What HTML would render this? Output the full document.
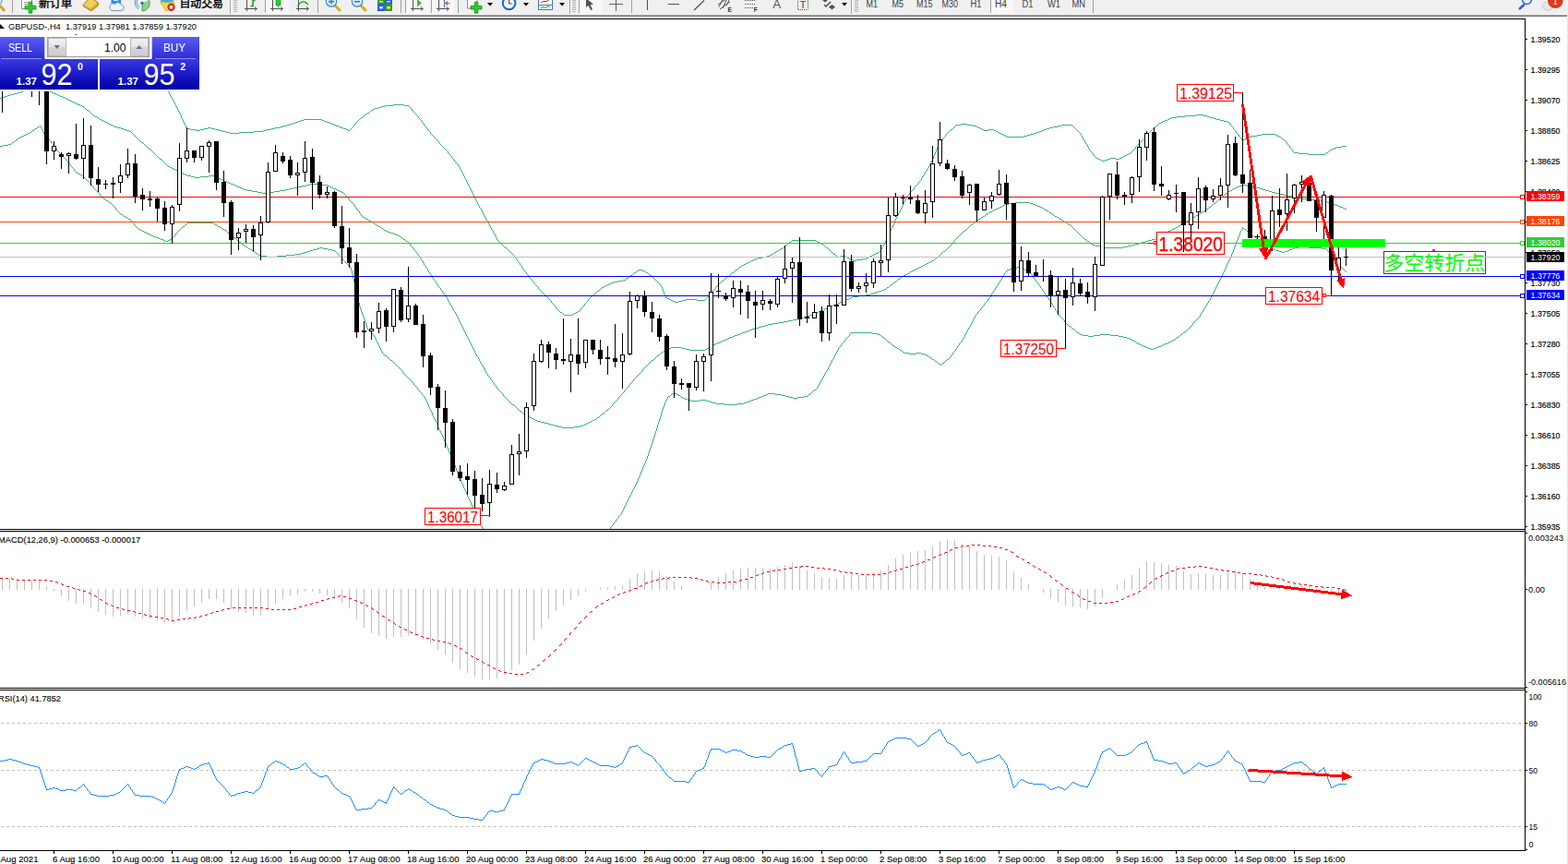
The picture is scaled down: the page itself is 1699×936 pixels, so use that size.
<!DOCTYPE html><html><head><meta charset="utf-8"><title>GBPUSD H4</title><style>html,body{margin:0;padding:0;background:#fff}body{width:1699px;height:936px;overflow:hidden;font-family:"Liberation Sans",sans-serif}svg{display:block}text{font-family:"Liberation Sans",sans-serif;white-space:pre}</style></head><body>
<svg width="1699" height="936" viewBox="0 0 1699 936">
<defs><linearGradient id="gb1" x1="0" y1="0" x2="0" y2="1"><stop offset="0" stop-color="#5a5af5"/><stop offset="1" stop-color="#2c2cd2"/></linearGradient><linearGradient id="gb2" x1="0" y1="0" x2="0" y2="1"><stop offset="0" stop-color="#3a3ae0"/><stop offset="0.5" stop-color="#1a1ac8"/><stop offset="1" stop-color="#0000a4"/></linearGradient><linearGradient id="gbtn" x1="0" y1="0" x2="0" y2="1"><stop offset="0" stop-color="#f2f2f2"/><stop offset="0.5" stop-color="#e4e4e4"/><stop offset="0.5" stop-color="#d4d4d4"/><stop offset="1" stop-color="#cfcfcf"/></linearGradient><clipPath id="cm"><rect x="0" y="21" width="1652" height="552"/></clipPath></defs>
<rect x="0" y="0" width="1699" height="936" fill="#fff"/>
<g clip-path="url(#cm)">
<path d="M23 99h2v1h-2zM54 99h2v1h-2zM19 100h4v1h-4zM56 100h2v1h-2zM15 101h4v1h-4zM58 101h3v1h-3zM11 102h4v1h-4zM61 102h2v1h-2zM8 103h3v1h-3zM63 103h2v1h-2zM5 104h3v1h-3zM65 104h3v1h-3zM2 105h3v1h-3zM68 105h2v1h-2zM0 106h2v1h-2zM70 106h2v1h-2zM72 107h2v1h-2zM74 108h2v1h-2zM76 109h2v1h-2zM78 110h2v1h-2zM80 111h2v1h-2zM82 112h2v1h-2zM84 113h3v1h-3zM426 113h12v1h-12zM87 114h2v1h-2zM417 114h9v1h-9zM438 114h5v1h-5zM89 115h2v1h-2zM413 115h4v1h-4zM410 116h3v1h-3zM406 117h4v1h-4zM404 118h2v1h-2zM94 119h2v1h-2zM402 119h2v1h-2zM398 122h2v1h-2zM395 124h2v1h-2zM1296 124h8v1h-8zM101 125h2v1h-2zM1284 125h12v1h-12zM1304 125h4v1h-4zM103 126h2v1h-2zM1275 126h9v1h-9zM1308 126h3v1h-3zM105 127h2v1h-2zM391 127h2v1h-2zM1269 127h6v1h-6zM1311 127h4v1h-4zM1267 128h2v1h-2zM1315 128h3v1h-3zM108 129h2v1h-2zM329 129h20v1h-20zM1265 129h2v1h-2zM1318 129h4v1h-4zM110 130h2v1h-2zM326 130h3v1h-3zM349 130h2v1h-2zM1262 130h3v1h-3zM1322 130h4v1h-4zM112 131h2v1h-2zM323 131h3v1h-3zM351 131h3v1h-3zM1260 131h2v1h-2zM1326 131h4v1h-4zM114 132h2v1h-2zM320 132h3v1h-3zM354 132h3v1h-3zM1258 132h2v1h-2zM1330 132h2v1h-2zM116 133h2v1h-2zM317 133h3v1h-3zM357 133h2v1h-2zM1256 133h2v1h-2zM118 134h2v1h-2zM314 134h3v1h-3zM359 134h3v1h-3zM1041 134h7v1h-7zM120 135h2v1h-2zM311 135h3v1h-3zM362 135h2v1h-2zM1036 135h5v1h-5zM1048 135h6v1h-6zM1150 135h12v1h-12zM122 136h2v1h-2zM307 136h4v1h-4zM364 136h3v1h-3zM1054 136h4v1h-4zM1146 136h4v1h-4zM41 137h2v1h-2zM124 137h3v1h-3zM303 137h4v1h-4zM367 137h2v1h-2zM1058 137h2v1h-2zM1141 137h5v1h-5zM127 138h4v1h-4zM225 138h4v1h-4zM298 138h5v1h-5zM369 138h3v1h-3zM1060 138h2v1h-2zM1137 138h4v1h-4zM1250 138h2v1h-2zM38 139h2v1h-2zM131 139h3v1h-3zM202 139h4v1h-4zM221 139h4v1h-4zM229 139h4v1h-4zM294 139h4v1h-4zM372 139h3v1h-3zM1062 139h2v1h-2zM1134 139h3v1h-3zM134 140h3v1h-3zM206 140h6v1h-6zM217 140h4v1h-4zM233 140h4v1h-4zM289 140h5v1h-5zM375 140h2v1h-2zM1030 140h2v1h-2zM1064 140h2v1h-2zM1071 140h6v1h-6zM1131 140h3v1h-3zM35 141h2v1h-2zM137 141h3v1h-3zM212 141h5v1h-5zM237 141h4v1h-4zM285 141h4v1h-4zM377 141h2v1h-2zM1066 141h5v1h-5zM1077 141h2v1h-2zM1129 141h2v1h-2zM140 142h2v1h-2zM241 142h4v1h-4zM275 142h10v1h-10zM1079 142h2v1h-2zM1126 142h3v1h-3zM32 143h2v1h-2zM245 143h4v1h-4zM259 143h16v1h-16zM1081 143h2v1h-2zM1123 143h3v1h-3zM30 144h2v1h-2zM249 144h10v1h-10zM1083 144h2v1h-2zM1120 144h3v1h-3zM28 145h2v1h-2zM1085 145h2v1h-2zM1116 145h4v1h-4zM1367 145h15v1h-15zM26 146h2v1h-2zM1087 146h2v1h-2zM1113 146h3v1h-3zM1362 146h5v1h-5zM1382 146h2v1h-2zM24 147h2v1h-2zM1089 147h2v1h-2zM1109 147h4v1h-4zM1356 147h6v1h-6zM1384 147h2v1h-2zM22 148h2v1h-2zM1091 148h18v1h-18zM1353 148h3v1h-3zM1386 148h2v1h-2zM20 149h2v1h-2zM1351 149h2v1h-2zM1349 150h2v1h-2zM17 151h2v1h-2zM1347 151h2v1h-2zM1390 151h2v1h-2zM13 154h2v1h-2zM153 154h2v1h-2zM9 156h3v1h-3zM3 157h6v1h-6zM0 158h3v1h-3zM1454 158h5v1h-5zM1448 159h6v1h-6zM1446 160h2v1h-2zM161 161h2v1h-2zM1443 161h3v1h-3zM1441 162h2v1h-2zM1402 165h5v1h-5zM1437 165h2v1h-2zM1223 166h2v1h-2zM1407 166h11v1h-11zM1221 167h2v1h-2zM1418 167h18v1h-18zM1219 168h2v1h-2zM1217 169h2v1h-2zM1215 170h2v1h-2zM1188 171h2v1h-2zM1203 171h6v1h-6zM1213 171h2v1h-2zM173 172h2v1h-2zM1190 172h2v1h-2zM1200 172h3v1h-3zM1209 172h4v1h-4zM1192 173h2v1h-2zM1197 173h3v1h-3zM1194 174h3v1h-3zM182 180h2v1h-2zM184 181h2v1h-2zM186 182h2v1h-2zM188 183h2v1h-2zM190 184h2v1h-2zM192 185h2v1h-2zM194 186h2v1h-2zM83 187h2v1h-2zM196 187h2v1h-2zM85 188h2v1h-2zM198 188h2v1h-2zM87 189h2v1h-2zM200 189h3v1h-3zM203 190h4v1h-4zM226 190h6v1h-6zM207 191h4v1h-4zM217 191h9v1h-9zM232 191h2v1h-2zM211 192h6v1h-6zM234 192h2v1h-2zM236 193h3v1h-3zM239 194h2v1h-2zM241 195h2v1h-2zM243 196h3v1h-3zM246 197h2v1h-2zM248 198h2v1h-2zM250 199h3v1h-3zM336 199h10v1h-10zM253 200h2v1h-2zM332 200h4v1h-4zM346 200h9v1h-9zM1346 200h5v1h-5zM255 201h2v1h-2zM327 201h5v1h-5zM355 201h2v1h-2zM1343 201h3v1h-3zM1351 201h6v1h-6zM257 202h3v1h-3zM322 202h5v1h-5zM357 202h2v1h-2zM1340 202h3v1h-3zM1357 202h4v1h-4zM260 203h2v1h-2zM318 203h4v1h-4zM359 203h2v1h-2zM1338 203h2v1h-2zM1361 203h4v1h-4zM262 204h2v1h-2zM313 204h5v1h-5zM361 204h3v1h-3zM1336 204h2v1h-2zM1365 204h3v1h-3zM264 205h4v1h-4zM309 205h4v1h-4zM364 205h2v1h-2zM1368 205h3v1h-3zM268 206h5v1h-5zM303 206h6v1h-6zM366 206h2v1h-2zM1333 206h2v1h-2zM1371 206h4v1h-4zM273 207h6v1h-6zM297 207h6v1h-6zM368 207h2v1h-2zM1331 207h2v1h-2zM1375 207h3v1h-3zM279 208h5v1h-5zM290 208h7v1h-7zM370 208h2v1h-2zM1378 208h4v1h-4zM284 209h6v1h-6zM1328 209h2v1h-2zM1382 209h4v1h-4zM1386 210h5v1h-5zM1391 211h4v1h-4zM1395 212h5v1h-5zM1323 213h2v1h-2zM1400 213h5v1h-5zM1405 214h5v1h-5zM112 215h2v1h-2zM1410 215h11v1h-11zM1421 216h10v1h-10zM115 217h2v1h-2zM1431 217h4v1h-4zM1435 218h3v1h-3zM118 219h2v1h-2zM1100 219h16v1h-16zM1438 219h4v1h-4zM1093 220h7v1h-7zM1116 220h3v1h-3zM1315 220h2v1h-2zM1442 220h3v1h-3zM1089 221h4v1h-4zM1119 221h3v1h-3zM1445 221h2v1h-2zM1087 222h2v1h-2zM1122 222h2v1h-2zM1447 222h3v1h-3zM1085 223h2v1h-2zM1124 223h3v1h-3zM1450 223h2v1h-2zM1083 224h2v1h-2zM1127 224h2v1h-2zM1310 224h2v1h-2zM1452 224h3v1h-3zM1081 225h2v1h-2zM1129 225h2v1h-2zM1455 225h2v1h-2zM1079 226h2v1h-2zM1307 226h2v1h-2zM1457 226h2v1h-2zM1077 227h2v1h-2zM1132 227h2v1h-2zM1075 228h2v1h-2zM1134 228h2v1h-2zM1304 228h2v1h-2zM1073 229h2v1h-2zM1071 230h2v1h-2zM1137 230h2v1h-2zM1301 230h2v1h-2zM131 232h2v1h-2zM1068 232h2v1h-2zM1140 232h2v1h-2zM1298 232h2v1h-2zM1296 233h2v1h-2zM134 234h2v1h-2zM1065 234h2v1h-2zM1143 234h2v1h-2zM136 235h2v1h-2zM393 235h2v1h-2zM1063 235h2v1h-2zM1145 235h2v1h-2zM1293 235h2v1h-2zM395 236h2v1h-2zM1291 236h2v1h-2zM139 237h2v1h-2zM397 237h2v1h-2zM1060 237h2v1h-2zM1148 237h2v1h-2zM1058 238h2v1h-2zM1150 238h2v1h-2zM1288 238h2v1h-2zM400 239h2v1h-2zM1286 239h2v1h-2zM402 240h2v1h-2zM1153 240h2v1h-2zM203 241h28v1h-28zM1283 241h2v1h-2zM231 242h2v1h-2zM405 242h2v1h-2zM1156 242h2v1h-2zM1281 242h2v1h-2zM233 243h2v1h-2zM1052 243h2v1h-2zM1158 243h2v1h-2zM1279 243h2v1h-2zM408 244h2v1h-2zM1277 244h2v1h-2zM198 245h2v1h-2zM236 245h2v1h-2zM410 245h2v1h-2zM238 246h2v1h-2zM1274 246h2v1h-2zM413 247h2v1h-2zM1272 247h2v1h-2zM1346 247h2v1h-2zM150 248h2v1h-2zM241 248h2v1h-2zM1270 248h2v1h-2zM1348 248h2v1h-2zM152 249h2v1h-2zM243 249h2v1h-2zM416 249h2v1h-2zM1268 249h2v1h-2zM154 250h2v1h-2zM418 250h2v1h-2zM1044 250h2v1h-2zM1266 250h2v1h-2zM156 251h2v1h-2zM420 251h3v1h-3zM158 252h2v1h-2zM247 252h2v1h-2zM423 252h3v1h-3zM1263 252h2v1h-2zM160 253h2v1h-2zM426 253h3v1h-3zM1261 253h2v1h-2zM1354 253h2v1h-2zM162 254h2v1h-2zM429 254h2v1h-2zM164 255h2v1h-2zM431 255h2v1h-2zM1258 255h2v1h-2zM166 256h3v1h-3zM1256 256h2v1h-2zM1358 256h2v1h-2zM169 257h3v1h-3zM253 257h2v1h-2zM434 257h2v1h-2zM1254 257h2v1h-2zM172 258h2v1h-2zM1252 258h2v1h-2zM174 259h3v1h-3zM184 259h2v1h-2zM437 259h2v1h-2zM1175 259h2v1h-2zM1248 259h4v1h-4zM177 260h2v1h-2zM182 260h2v1h-2zM858 260h26v1h-26zM1244 260h4v1h-4zM1363 260h2v1h-2zM179 261h3v1h-3zM440 261h2v1h-2zM884 261h2v1h-2zM1178 261h2v1h-2zM1241 261h3v1h-3zM259 262h2v1h-2zM855 262h2v1h-2zM886 262h2v1h-2zM1237 262h4v1h-4zM888 263h2v1h-2zM1234 263h3v1h-3zM1367 263h2v1h-2zM890 264h2v1h-2zM1182 264h2v1h-2zM1230 264h4v1h-4zM1369 264h2v1h-2zM263 265h2v1h-2zM1184 265h3v1h-3zM1226 265h4v1h-4zM1371 265h2v1h-2zM850 266h2v1h-2zM1187 266h5v1h-5zM1222 266h4v1h-4zM266 267h2v1h-2zM1192 267h4v1h-4zM1217 267h5v1h-5zM1374 267h2v1h-2zM1407 267h11v1h-11zM346 268h4v1h-4zM547 268h2v1h-2zM895 268h2v1h-2zM1196 268h21v1h-21zM1376 268h2v1h-2zM1403 268h4v1h-4zM1418 268h14v1h-14zM269 269h2v1h-2zM343 269h3v1h-3zM350 269h5v1h-5zM846 269h2v1h-2zM1378 269h2v1h-2zM1400 269h3v1h-3zM1432 269h5v1h-5zM271 270h2v1h-2zM339 270h4v1h-4zM355 270h5v1h-5zM844 270h2v1h-2zM1380 270h2v1h-2zM1397 270h3v1h-3zM336 271h3v1h-3zM360 271h3v1h-3zM1382 271h4v1h-4zM1395 271h2v1h-2zM274 272h2v1h-2zM333 272h3v1h-3zM841 272h2v1h-2zM1022 272h2v1h-2zM1386 272h3v1h-3zM1392 272h3v1h-3zM329 273h4v1h-4zM839 273h2v1h-2zM951 273h2v1h-2zM1389 273h3v1h-3zM277 274h2v1h-2zM326 274h3v1h-3zM949 274h2v1h-2zM320 275h6v1h-6zM836 275h2v1h-2zM903 275h2v1h-2zM947 275h2v1h-2zM280 276h2v1h-2zM310 276h10v1h-10zM834 276h2v1h-2zM945 276h2v1h-2zM282 277h7v1h-7zM300 277h10v1h-10zM831 277h3v1h-3zM911 277h5v1h-5zM943 277h2v1h-2zM289 278h11v1h-11zM826 278h5v1h-5zM907 278h4v1h-4zM916 278h2v1h-2zM941 278h2v1h-2zM1015 278h2v1h-2zM821 279h5v1h-5zM918 279h2v1h-2zM939 279h2v1h-2zM818 280h3v1h-3zM920 280h2v1h-2zM935 280h4v1h-4zM816 281h2v1h-2zM922 281h2v1h-2zM928 281h7v1h-7zM814 282h2v1h-2zM924 282h4v1h-4zM1010 282h2v1h-2zM812 283h2v1h-2zM1008 283h2v1h-2zM810 284h2v1h-2zM1006 284h2v1h-2zM808 285h2v1h-2zM1004 285h2v1h-2zM806 286h2v1h-2zM1002 286h2v1h-2zM804 287h2v1h-2zM1000 287h2v1h-2zM998 288h2v1h-2zM801 289h2v1h-2zM996 289h2v1h-2zM1102 289h3v1h-3zM994 290h2v1h-2zM1098 290h4v1h-4zM1105 290h3v1h-3zM992 291h2v1h-2zM1094 291h4v1h-4zM1108 291h2v1h-2zM692 292h4v1h-4zM797 292h2v1h-2zM990 292h2v1h-2zM1091 292h3v1h-3zM1110 292h3v1h-3zM690 293h2v1h-2zM696 293h3v1h-3zM988 293h2v1h-2zM1113 293h2v1h-2zM986 294h2v1h-2zM687 295h2v1h-2zM700 295h2v1h-2zM793 295h2v1h-2zM983 296h2v1h-2zM981 297h2v1h-2zM683 298h2v1h-2zM704 298h2v1h-2zM979 298h2v1h-2zM788 299h2v1h-2zM977 299h2v1h-2zM679 301h2v1h-2zM973 302h2v1h-2zM675 303h3v1h-3zM670 304h5v1h-5zM782 304h2v1h-2zM665 305h5v1h-5zM969 305h2v1h-2zM662 306h3v1h-3zM660 307h2v1h-2zM658 308h2v1h-2zM965 308h2v1h-2zM656 309h2v1h-2zM654 310h2v1h-2zM652 311h2v1h-2zM961 311h2v1h-2zM958 313h2v1h-2zM955 314h3v1h-3zM647 315h2v1h-2zM952 315h3v1h-3zM949 316h3v1h-3zM946 317h3v1h-3zM943 318h3v1h-3zM938 319h5v1h-5zM641 320h2v1h-2zM930 320h8v1h-8zM924 321h6v1h-6zM721 322h2v1h-2zM922 322h2v1h-2zM723 323h2v1h-2zM920 323h2v1h-2zM725 324h2v1h-2zM743 324h12v1h-12zM917 324h3v1h-3zM727 325h2v1h-2zM739 325h4v1h-4zM755 325h9v1h-9zM915 325h2v1h-2zM729 326h2v1h-2zM735 326h4v1h-4zM912 326h3v1h-3zM731 327h4v1h-4zM910 327h2v1h-2zM908 328h2v1h-2zM906 329h2v1h-2zM903 330h3v1h-3zM901 331h2v1h-2zM899 332h2v1h-2zM897 333h2v1h-2zM894 334h3v1h-3zM892 335h2v1h-2zM889 336h3v1h-3zM626 337h2v1h-2zM887 337h2v1h-2zM607 338h2v1h-2zM624 338h2v1h-2zM885 338h2v1h-2zM622 339h2v1h-2zM882 339h3v1h-3zM620 340h2v1h-2zM880 340h2v1h-2zM611 341h9v1h-9zM877 341h3v1h-3zM874 342h3v1h-3zM871 343h3v1h-3zM868 344h3v1h-3zM864 345h4v1h-4zM859 346h5v1h-5zM854 347h5v1h-5zM849 348h5v1h-5zM843 349h6v1h-6zM837 350h6v1h-6zM832 351h5v1h-5zM829 352h3v1h-3zM825 353h4v1h-4zM1158 353h2v1h-2zM822 354h3v1h-3zM819 355h3v1h-3zM815 356h4v1h-4zM1162 356h2v1h-2zM812 357h3v1h-3zM810 358h2v1h-2zM807 359h3v1h-3zM1283 359h2v1h-2zM804 360h3v1h-3zM922 360h23v1h-23zM1167 360h2v1h-2zM802 361h2v1h-2zM945 361h6v1h-6zM799 362h3v1h-3zM951 362h3v1h-3zM1170 362h3v1h-3zM1192 362h11v1h-11zM1279 362h2v1h-2zM796 363h3v1h-3zM1173 363h6v1h-6zM1185 363h7v1h-7zM1203 363h9v1h-9zM794 364h2v1h-2zM1179 364h6v1h-6zM1212 364h5v1h-5zM791 365h3v1h-3zM956 365h2v1h-2zM1217 365h4v1h-4zM1275 365h2v1h-2zM789 366h2v1h-2zM1221 366h3v1h-3zM787 367h2v1h-2zM1224 367h2v1h-2zM784 368h3v1h-3zM1226 368h2v1h-2zM1271 368h2v1h-2zM782 369h2v1h-2zM1228 369h2v1h-2zM1269 369h2v1h-2zM780 370h2v1h-2zM962 370h2v1h-2zM1267 370h2v1h-2zM777 371h3v1h-3zM1231 371h2v1h-2zM1265 371h2v1h-2zM775 372h2v1h-2zM1233 372h2v1h-2zM1262 372h3v1h-3zM773 373h2v1h-2zM1235 373h2v1h-2zM1260 373h2v1h-2zM771 374h2v1h-2zM967 374h2v1h-2zM1237 374h2v1h-2zM1258 374h2v1h-2zM769 375h2v1h-2zM1239 375h3v1h-3zM1255 375h3v1h-3zM727 376h12v1h-12zM970 376h2v1h-2zM1242 376h2v1h-2zM1253 376h2v1h-2zM725 377h2v1h-2zM739 377h4v1h-4zM766 377h2v1h-2zM972 377h2v1h-2zM1244 377h3v1h-3zM1250 377h3v1h-3zM723 378h2v1h-2zM743 378h4v1h-4zM764 378h2v1h-2zM1247 378h3v1h-3zM721 379h2v1h-2zM747 379h17v1h-17zM975 379h2v1h-2zM719 380h2v1h-2zM717 381h2v1h-2zM978 381h2v1h-2zM980 382h5v1h-5zM993 382h5v1h-5zM985 383h8v1h-8zM998 383h4v1h-4zM1002 384h2v1h-2zM417 385h2v1h-2zM712 385h2v1h-2zM1004 385h2v1h-2zM1007 387h2v1h-2zM1010 389h2v1h-2zM1026 389h2v1h-2zM423 390h2v1h-2zM706 390h2v1h-2zM1013 391h2v1h-2zM1021 393h2v1h-2zM1017 394h2v1h-2zM882 422h2v1h-2zM728 426h2v1h-2zM731 426h2v1h-2zM832 426h8v1h-8zM733 427h2v1h-2zM830 427h2v1h-2zM840 427h7v1h-7zM876 427h2v1h-2zM735 428h2v1h-2zM827 428h3v1h-3zM847 428h4v1h-4zM724 429h2v1h-2zM825 429h2v1h-2zM851 429h4v1h-4zM871 429h4v1h-4zM738 430h2v1h-2zM822 430h3v1h-3zM855 430h4v1h-4zM864 430h7v1h-7zM740 431h2v1h-2zM820 431h2v1h-2zM859 431h5v1h-5zM742 432h3v1h-3zM817 432h3v1h-3zM745 433h4v1h-4zM758 433h7v1h-7zM814 433h3v1h-3zM749 434h9v1h-9zM765 434h4v1h-4zM812 434h2v1h-2zM769 435h3v1h-3zM809 435h3v1h-3zM772 436h4v1h-4zM806 436h3v1h-3zM776 437h9v1h-9zM799 437h7v1h-7zM555 438h2v1h-2zM785 438h14v1h-14zM657 444h2v1h-2zM563 445h2v1h-2zM652 448h2v1h-2zM568 449h2v1h-2zM570 450h2v1h-2zM572 451h2v1h-2zM574 452h2v1h-2zM647 452h2v1h-2zM576 453h2v1h-2zM578 454h2v1h-2zM644 454h2v1h-2zM580 455h2v1h-2zM642 455h2v1h-2zM582 456h4v1h-4zM640 456h2v1h-2zM586 457h4v1h-4zM638 457h2v1h-2zM590 458h4v1h-4zM636 458h2v1h-2zM594 459h3v1h-3zM634 459h2v1h-2zM597 460h4v1h-4zM632 460h2v1h-2zM601 461h4v1h-4zM628 461h4v1h-4zM605 462h4v1h-4zM622 462h6v1h-6zM609 463h13v1h-13zM12 155h1v1h-1zM15 153h1v1h-1zM16 152h1v1h-1zM19 150h1v1h-1zM34 142h1v1h-1zM37 140h1v1h-1zM40 138h1v1h-1zM43 136h1v1h-1zM44 137h1v2h-1zM45 139h1v2h-1zM46 141h1v2h-1zM47 143h1v2h-1zM48 145h1v1h-1zM49 146h1v1h-1zM50 147h1v1h-1zM51 148h1v2h-1zM52 150h1v1h-1zM53 151h1v1h-1zM54 152h1v1h-1zM55 153h1v2h-1zM56 155h1v1h-1zM57 156h1v1h-1zM58 157h1v2h-1zM59 159h1v1h-1zM60 160h1v1h-1zM61 161h1v2h-1zM62 163h1v1h-1zM63 164h1v1h-1zM64 165h1v1h-1zM65 166h1v1h-1zM66 167h1v1h-1zM67 168h1v1h-1zM68 169h1v1h-1zM69 170h1v1h-1zM70 171h1v1h-1zM71 172h1v1h-1zM72 173h1v2h-1zM73 175h1v1h-1zM74 176h1v1h-1zM75 177h1v1h-1zM76 178h1v2h-1zM77 180h1v1h-1zM78 181h1v1h-1zM79 182h1v1h-1zM80 183h1v2h-1zM81 185h1v1h-1zM82 186h1v1h-1zM89 190h1v1h-1zM90 191h1v1h-1zM91 116h1v1h-1zM91 192h1v1h-1zM92 117h1v1h-1zM92 193h1v1h-1zM93 118h1v1h-1zM93 194h1v1h-1zM94 195h1v1h-1zM95 196h1v1h-1zM96 120h1v1h-1zM96 197h1v1h-1zM97 121h1v1h-1zM97 198h1v1h-1zM98 122h1v1h-1zM98 199h1v1h-1zM99 123h1v1h-1zM99 200h1v1h-1zM100 124h1v1h-1zM100 201h1v1h-1zM101 202h1v2h-1zM102 204h1v1h-1zM103 205h1v1h-1zM104 206h1v1h-1zM105 207h1v1h-1zM106 208h1v1h-1zM107 128h1v1h-1zM107 209h1v1h-1zM108 210h1v2h-1zM109 212h1v1h-1zM110 213h1v1h-1zM111 214h1v1h-1zM114 216h1v1h-1zM117 218h1v1h-1zM120 220h1v1h-1zM121 221h1v1h-1zM122 222h1v1h-1zM123 223h1v1h-1zM124 224h1v1h-1zM125 225h1v2h-1zM126 227h1v1h-1zM127 228h1v1h-1zM128 229h1v1h-1zM129 230h1v1h-1zM130 231h1v1h-1zM133 233h1v1h-1zM138 236h1v1h-1zM141 238h1v1h-1zM142 143h1v1h-1zM142 239h1v1h-1zM143 144h1v1h-1zM143 240h1v1h-1zM144 145h1v1h-1zM144 241h1v1h-1zM145 146h1v1h-1zM145 242h1v2h-1zM146 147h1v1h-1zM146 244h1v1h-1zM147 148h1v1h-1zM147 245h1v1h-1zM148 149h1v1h-1zM148 246h1v1h-1zM149 150h1v1h-1zM149 247h1v1h-1zM150 151h1v1h-1zM151 152h1v1h-1zM152 153h1v1h-1zM155 155h1v1h-1zM156 156h1v1h-1zM157 157h1v1h-1zM158 158h1v1h-1zM159 159h1v1h-1zM160 160h1v1h-1zM163 162h1v1h-1zM164 163h1v1h-1zM165 164h1v1h-1zM166 165h1v1h-1zM167 166h1v1h-1zM168 167h1v1h-1zM169 168h1v1h-1zM170 169h1v1h-1zM171 170h1v1h-1zM172 171h1v1h-1zM175 173h1v1h-1zM176 174h1v1h-1zM177 175h1v1h-1zM178 176h1v1h-1zM179 177h1v1h-1zM180 178h1v1h-1zM181 179h1v1h-1zM182 99h1v1h-1zM183 100h1v2h-1zM184 102h1v2h-1zM185 104h1v2h-1zM186 106h1v1h-1zM186 258h1v1h-1zM187 107h1v2h-1zM187 257h1v1h-1zM188 109h1v2h-1zM188 256h1v1h-1zM189 111h1v2h-1zM189 255h1v1h-1zM190 113h1v2h-1zM190 253h1v2h-1zM191 115h1v2h-1zM191 252h1v1h-1zM192 117h1v2h-1zM192 251h1v1h-1zM193 119h1v2h-1zM193 250h1v1h-1zM194 121h1v2h-1zM194 249h1v1h-1zM195 123h1v2h-1zM195 248h1v1h-1zM196 125h1v3h-1zM196 247h1v1h-1zM197 128h1v2h-1zM197 246h1v1h-1zM198 130h1v2h-1zM199 132h1v2h-1zM200 134h1v2h-1zM200 244h1v1h-1zM201 136h1v2h-1zM201 243h1v1h-1zM202 138h1v1h-1zM202 242h1v1h-1zM235 244h1v1h-1zM240 247h1v1h-1zM245 250h1v1h-1zM246 251h1v1h-1zM249 253h1v1h-1zM250 254h1v1h-1zM251 255h1v1h-1zM252 256h1v1h-1zM255 258h1v1h-1zM256 259h1v1h-1zM257 260h1v1h-1zM258 261h1v1h-1zM261 263h1v1h-1zM262 264h1v1h-1zM265 266h1v1h-1zM268 268h1v1h-1zM273 271h1v1h-1zM276 273h1v1h-1zM279 275h1v1h-1zM363 272h1v1h-1zM364 273h1v1h-1zM365 274h1v1h-1zM366 275h1v1h-1zM367 276h1v1h-1zM368 277h1v1h-1zM369 278h1v1h-1zM370 279h1v1h-1zM371 280h1v2h-1zM372 209h1v1h-1zM372 282h1v1h-1zM373 210h1v1h-1zM373 283h1v1h-1zM374 211h1v1h-1zM374 284h1v1h-1zM375 212h1v1h-1zM375 285h1v1h-1zM376 213h1v1h-1zM376 286h1v1h-1zM377 214h1v2h-1zM377 287h1v1h-1zM378 216h1v1h-1zM378 288h1v1h-1zM379 140h1v1h-1zM379 217h1v1h-1zM379 289h1v1h-1zM380 139h1v1h-1zM380 218h1v1h-1zM380 290h1v3h-1zM381 138h1v1h-1zM381 219h1v1h-1zM381 293h1v4h-1zM382 137h1v1h-1zM382 220h1v1h-1zM382 297h1v5h-1zM383 136h1v1h-1zM383 221h1v1h-1zM383 302h1v4h-1zM384 134h1v2h-1zM384 222h1v2h-1zM384 306h1v5h-1zM385 133h1v1h-1zM385 224h1v1h-1zM385 311h1v4h-1zM386 132h1v1h-1zM386 225h1v2h-1zM386 315h1v4h-1zM387 131h1v1h-1zM387 227h1v1h-1zM387 319h1v5h-1zM388 130h1v1h-1zM388 228h1v1h-1zM388 324h1v4h-1zM389 129h1v1h-1zM389 229h1v2h-1zM389 328h1v4h-1zM390 128h1v1h-1zM390 231h1v1h-1zM390 332h1v3h-1zM391 232h1v2h-1zM391 335h1v3h-1zM392 234h1v1h-1zM392 338h1v3h-1zM393 126h1v1h-1zM393 341h1v3h-1zM394 125h1v1h-1zM394 344h1v2h-1zM395 346h1v3h-1zM396 349h1v3h-1zM397 123h1v1h-1zM397 352h1v3h-1zM398 355h1v2h-1zM399 238h1v1h-1zM399 357h1v1h-1zM400 121h1v1h-1zM400 358h1v1h-1zM401 120h1v1h-1zM401 359h1v1h-1zM402 360h1v1h-1zM403 361h1v1h-1zM404 241h1v1h-1zM404 362h1v1h-1zM405 363h1v2h-1zM406 365h1v2h-1zM407 243h1v1h-1zM407 367h1v2h-1zM408 369h1v2h-1zM409 371h1v2h-1zM410 373h1v2h-1zM411 375h1v2h-1zM412 246h1v1h-1zM412 377h1v2h-1zM413 379h1v2h-1zM414 381h1v2h-1zM415 248h1v1h-1zM415 383h1v1h-1zM416 384h1v1h-1zM419 386h1v1h-1zM420 387h1v1h-1zM421 388h1v1h-1zM422 389h1v1h-1zM425 391h1v1h-1zM426 392h1v1h-1zM427 393h1v1h-1zM428 394h1v1h-1zM429 395h1v1h-1zM430 396h1v1h-1zM431 397h1v1h-1zM432 398h1v1h-1zM433 256h1v1h-1zM433 399h1v1h-1zM434 400h1v1h-1zM435 401h1v1h-1zM436 258h1v1h-1zM436 402h1v2h-1zM437 404h1v1h-1zM438 405h1v1h-1zM439 260h1v1h-1zM439 406h1v1h-1zM440 407h1v1h-1zM441 408h1v1h-1zM442 262h1v1h-1zM442 409h1v1h-1zM443 115h1v1h-1zM443 263h1v1h-1zM443 410h1v1h-1zM444 116h1v1h-1zM444 264h1v2h-1zM444 411h1v1h-1zM445 117h1v1h-1zM445 266h1v1h-1zM445 412h1v1h-1zM446 118h1v2h-1zM446 267h1v1h-1zM446 413h1v1h-1zM447 120h1v1h-1zM447 268h1v1h-1zM447 414h1v2h-1zM448 121h1v1h-1zM448 269h1v2h-1zM448 416h1v1h-1zM449 122h1v1h-1zM449 271h1v1h-1zM449 417h1v1h-1zM450 123h1v1h-1zM450 272h1v1h-1zM450 418h1v1h-1zM451 124h1v1h-1zM451 273h1v1h-1zM451 419h1v1h-1zM452 125h1v1h-1zM452 274h1v2h-1zM452 420h1v2h-1zM453 126h1v2h-1zM453 276h1v1h-1zM453 422h1v1h-1zM454 128h1v1h-1zM454 277h1v1h-1zM454 423h1v1h-1zM455 129h1v1h-1zM455 278h1v2h-1zM455 424h1v1h-1zM456 130h1v2h-1zM456 280h1v2h-1zM456 425h1v1h-1zM457 132h1v1h-1zM457 282h1v1h-1zM457 426h1v2h-1zM458 133h1v1h-1zM458 283h1v2h-1zM458 428h1v1h-1zM459 134h1v2h-1zM459 285h1v2h-1zM459 429h1v1h-1zM460 136h1v1h-1zM460 287h1v1h-1zM460 430h1v2h-1zM461 137h1v1h-1zM461 288h1v2h-1zM461 432h1v2h-1zM462 138h1v1h-1zM462 290h1v1h-1zM462 434h1v2h-1zM463 139h1v2h-1zM463 291h1v2h-1zM463 436h1v2h-1zM464 141h1v1h-1zM464 293h1v2h-1zM464 438h1v3h-1zM465 142h1v1h-1zM465 295h1v1h-1zM465 441h1v2h-1zM466 143h1v2h-1zM466 296h1v2h-1zM466 443h1v2h-1zM467 145h1v1h-1zM467 298h1v2h-1zM467 445h1v2h-1zM468 146h1v1h-1zM468 300h1v1h-1zM468 447h1v3h-1zM469 147h1v1h-1zM469 301h1v2h-1zM469 450h1v2h-1zM470 148h1v1h-1zM470 303h1v1h-1zM470 452h1v2h-1zM471 149h1v1h-1zM471 304h1v1h-1zM471 454h1v2h-1zM472 150h1v1h-1zM472 305h1v2h-1zM472 456h1v2h-1zM473 151h1v1h-1zM473 307h1v1h-1zM473 458h1v2h-1zM474 152h1v1h-1zM474 308h1v2h-1zM474 460h1v3h-1zM475 153h1v2h-1zM475 310h1v1h-1zM475 463h1v2h-1zM476 155h1v1h-1zM476 311h1v1h-1zM476 465h1v2h-1zM477 156h1v1h-1zM477 312h1v2h-1zM477 467h1v2h-1zM478 157h1v1h-1zM478 314h1v1h-1zM478 469h1v2h-1zM479 158h1v1h-1zM479 315h1v2h-1zM479 471h1v2h-1zM480 159h1v1h-1zM480 317h1v1h-1zM480 473h1v3h-1zM481 160h1v1h-1zM481 318h1v1h-1zM481 476h1v2h-1zM482 161h1v1h-1zM482 319h1v2h-1zM482 478h1v2h-1zM483 162h1v1h-1zM483 321h1v1h-1zM483 480h1v3h-1zM484 163h1v1h-1zM484 322h1v2h-1zM484 483h1v2h-1zM485 164h1v2h-1zM485 324h1v2h-1zM485 485h1v2h-1zM486 166h1v1h-1zM486 326h1v2h-1zM486 487h1v3h-1zM487 167h1v1h-1zM487 328h1v2h-1zM487 490h1v2h-1zM488 168h1v1h-1zM488 330h1v1h-1zM488 492h1v2h-1zM489 169h1v2h-1zM489 331h1v2h-1zM489 494h1v3h-1zM490 171h1v1h-1zM490 333h1v2h-1zM490 497h1v2h-1zM491 172h1v1h-1zM491 335h1v2h-1zM491 499h1v3h-1zM492 173h1v2h-1zM492 337h1v1h-1zM492 502h1v2h-1zM493 175h1v1h-1zM493 338h1v2h-1zM493 504h1v3h-1zM494 176h1v1h-1zM494 340h1v2h-1zM494 507h1v3h-1zM495 177h1v1h-1zM495 342h1v2h-1zM495 510h1v2h-1zM496 178h1v2h-1zM496 344h1v2h-1zM496 512h1v3h-1zM497 180h1v1h-1zM497 346h1v2h-1zM497 515h1v2h-1zM498 181h1v2h-1zM498 348h1v2h-1zM498 517h1v3h-1zM499 183h1v2h-1zM499 350h1v2h-1zM499 520h1v2h-1zM500 185h1v2h-1zM500 352h1v2h-1zM500 522h1v2h-1zM501 187h1v2h-1zM501 354h1v2h-1zM501 524h1v2h-1zM502 189h1v2h-1zM502 356h1v2h-1zM502 526h1v3h-1zM503 191h1v2h-1zM503 358h1v2h-1zM503 529h1v2h-1zM504 193h1v2h-1zM504 360h1v2h-1zM504 531h1v2h-1zM505 195h1v2h-1zM505 362h1v2h-1zM505 533h1v2h-1zM506 197h1v2h-1zM506 364h1v2h-1zM506 535h1v3h-1zM507 199h1v2h-1zM507 366h1v2h-1zM507 538h1v2h-1zM508 201h1v2h-1zM508 368h1v2h-1zM508 540h1v2h-1zM509 203h1v2h-1zM509 370h1v2h-1zM509 542h1v2h-1zM510 205h1v2h-1zM510 372h1v2h-1zM510 544h1v3h-1zM511 207h1v2h-1zM511 374h1v2h-1zM511 547h1v2h-1zM512 209h1v2h-1zM512 376h1v2h-1zM512 549h1v3h-1zM513 211h1v2h-1zM513 378h1v2h-1zM513 552h1v2h-1zM514 213h1v2h-1zM514 380h1v2h-1zM514 554h1v3h-1zM515 215h1v2h-1zM515 382h1v2h-1zM515 557h1v2h-1zM516 217h1v2h-1zM516 384h1v2h-1zM516 559h1v3h-1zM517 219h1v2h-1zM517 386h1v1h-1zM517 562h1v2h-1zM518 221h1v2h-1zM518 387h1v2h-1zM518 564h1v2h-1zM519 223h1v2h-1zM519 389h1v2h-1zM519 566h1v2h-1zM520 225h1v1h-1zM520 391h1v2h-1zM520 568h1v1h-1zM521 226h1v2h-1zM521 393h1v2h-1zM521 569h1v1h-1zM522 228h1v2h-1zM522 395h1v1h-1zM522 570h1v2h-1zM523 230h1v2h-1zM523 396h1v2h-1zM523 572h1v1h-1zM524 232h1v2h-1zM524 398h1v2h-1zM525 234h1v2h-1zM525 400h1v2h-1zM526 236h1v2h-1zM526 402h1v2h-1zM527 238h1v1h-1zM527 404h1v1h-1zM528 239h1v2h-1zM528 405h1v2h-1zM529 241h1v2h-1zM529 407h1v1h-1zM530 243h1v2h-1zM530 408h1v1h-1zM531 245h1v2h-1zM531 409h1v2h-1zM532 247h1v2h-1zM532 411h1v1h-1zM533 249h1v1h-1zM533 412h1v2h-1zM534 250h1v2h-1zM534 414h1v1h-1zM535 252h1v2h-1zM535 415h1v2h-1zM536 254h1v2h-1zM536 417h1v1h-1zM537 256h1v2h-1zM537 418h1v1h-1zM538 258h1v2h-1zM538 419h1v2h-1zM539 260h1v1h-1zM539 421h1v1h-1zM540 261h1v1h-1zM540 422h1v1h-1zM541 262h1v1h-1zM541 423h1v1h-1zM542 263h1v1h-1zM542 424h1v1h-1zM543 264h1v1h-1zM543 425h1v1h-1zM544 265h1v1h-1zM544 426h1v1h-1zM545 266h1v1h-1zM545 427h1v2h-1zM546 267h1v1h-1zM546 429h1v1h-1zM547 430h1v1h-1zM548 431h1v1h-1zM549 269h1v1h-1zM549 432h1v1h-1zM550 270h1v1h-1zM550 433h1v1h-1zM551 271h1v1h-1zM551 434h1v1h-1zM552 272h1v1h-1zM552 435h1v1h-1zM553 273h1v1h-1zM553 436h1v1h-1zM554 274h1v1h-1zM554 437h1v1h-1zM555 275h1v1h-1zM556 276h1v1h-1zM557 277h1v1h-1zM557 439h1v1h-1zM558 278h1v2h-1zM558 440h1v1h-1zM559 280h1v1h-1zM559 441h1v1h-1zM560 281h1v2h-1zM560 442h1v1h-1zM561 283h1v1h-1zM561 443h1v1h-1zM562 284h1v1h-1zM562 444h1v1h-1zM563 285h1v2h-1zM564 287h1v1h-1zM565 288h1v2h-1zM565 446h1v1h-1zM566 290h1v1h-1zM566 447h1v1h-1zM567 291h1v2h-1zM567 448h1v1h-1zM568 293h1v1h-1zM569 294h1v1h-1zM570 295h1v2h-1zM571 297h1v1h-1zM572 298h1v1h-1zM573 299h1v2h-1zM574 301h1v1h-1zM575 302h1v1h-1zM576 303h1v1h-1zM577 304h1v1h-1zM578 305h1v2h-1zM579 307h1v1h-1zM580 308h1v1h-1zM581 309h1v1h-1zM582 310h1v1h-1zM583 311h1v2h-1zM584 313h1v1h-1zM585 314h1v1h-1zM586 315h1v1h-1zM587 316h1v1h-1zM588 317h1v1h-1zM589 318h1v1h-1zM590 319h1v1h-1zM591 320h1v1h-1zM592 321h1v1h-1zM593 322h1v1h-1zM594 323h1v1h-1zM595 324h1v1h-1zM596 325h1v1h-1zM597 326h1v2h-1zM598 328h1v1h-1zM599 329h1v1h-1zM600 330h1v1h-1zM601 331h1v1h-1zM602 332h1v2h-1zM603 334h1v1h-1zM604 335h1v1h-1zM605 336h1v1h-1zM606 337h1v1h-1zM609 339h1v1h-1zM610 340h1v1h-1zM628 336h1v1h-1zM629 334h1v2h-1zM630 333h1v1h-1zM631 332h1v1h-1zM632 331h1v1h-1zM633 329h1v2h-1zM634 328h1v1h-1zM635 327h1v1h-1zM636 326h1v1h-1zM637 324h1v2h-1zM638 323h1v1h-1zM639 322h1v1h-1zM640 321h1v1h-1zM643 319h1v1h-1zM644 318h1v1h-1zM645 317h1v1h-1zM646 316h1v1h-1zM646 453h1v1h-1zM649 314h1v1h-1zM649 451h1v1h-1zM650 313h1v1h-1zM650 450h1v1h-1zM651 312h1v1h-1zM651 449h1v1h-1zM654 447h1v1h-1zM655 446h1v1h-1zM656 445h1v1h-1zM659 443h1v1h-1zM660 442h1v1h-1zM661 441h1v1h-1zM661 571h1v2h-1zM662 440h1v1h-1zM662 570h1v1h-1zM663 438h1v2h-1zM663 569h1v1h-1zM664 437h1v1h-1zM664 567h1v2h-1zM665 436h1v1h-1zM665 566h1v1h-1zM666 435h1v1h-1zM666 565h1v1h-1zM667 434h1v1h-1zM667 563h1v2h-1zM668 433h1v1h-1zM668 562h1v1h-1zM669 432h1v1h-1zM669 561h1v1h-1zM670 430h1v2h-1zM670 559h1v2h-1zM671 429h1v1h-1zM671 558h1v1h-1zM672 428h1v1h-1zM672 557h1v1h-1zM673 427h1v1h-1zM673 555h1v2h-1zM674 426h1v1h-1zM674 553h1v2h-1zM675 425h1v1h-1zM675 551h1v2h-1zM676 423h1v2h-1zM676 549h1v2h-1zM677 422h1v1h-1zM677 547h1v2h-1zM678 302h1v1h-1zM678 421h1v1h-1zM678 545h1v2h-1zM679 420h1v1h-1zM679 543h1v2h-1zM680 419h1v1h-1zM680 541h1v2h-1zM681 300h1v1h-1zM681 417h1v2h-1zM681 539h1v2h-1zM682 299h1v1h-1zM682 416h1v1h-1zM682 537h1v2h-1zM683 415h1v1h-1zM683 535h1v2h-1zM684 414h1v1h-1zM684 533h1v2h-1zM685 297h1v1h-1zM685 413h1v1h-1zM685 531h1v2h-1zM686 296h1v1h-1zM686 411h1v2h-1zM686 529h1v2h-1zM687 410h1v1h-1zM687 527h1v2h-1zM688 409h1v1h-1zM688 525h1v2h-1zM689 294h1v1h-1zM689 408h1v1h-1zM689 523h1v2h-1zM690 407h1v1h-1zM690 521h1v2h-1zM691 406h1v1h-1zM691 518h1v3h-1zM692 405h1v1h-1zM692 516h1v2h-1zM693 404h1v1h-1zM693 514h1v2h-1zM694 403h1v1h-1zM694 511h1v3h-1zM695 402h1v1h-1zM695 509h1v2h-1zM696 400h1v2h-1zM696 506h1v3h-1zM697 399h1v1h-1zM697 504h1v2h-1zM698 398h1v1h-1zM698 502h1v2h-1zM699 294h1v1h-1zM699 397h1v1h-1zM699 499h1v3h-1zM700 396h1v1h-1zM700 497h1v2h-1zM701 395h1v1h-1zM701 494h1v3h-1zM702 296h1v1h-1zM702 394h1v1h-1zM702 491h1v3h-1zM703 297h1v1h-1zM703 393h1v1h-1zM703 488h1v3h-1zM704 392h1v1h-1zM704 485h1v3h-1zM705 391h1v1h-1zM705 482h1v3h-1zM706 299h1v1h-1zM706 479h1v3h-1zM707 300h1v1h-1zM707 476h1v3h-1zM708 301h1v1h-1zM708 389h1v1h-1zM708 473h1v3h-1zM709 302h1v1h-1zM709 388h1v1h-1zM709 470h1v3h-1zM710 303h1v1h-1zM710 387h1v1h-1zM710 467h1v3h-1zM711 304h1v1h-1zM711 386h1v1h-1zM711 464h1v3h-1zM712 305h1v1h-1zM712 460h1v4h-1zM713 306h1v1h-1zM713 457h1v3h-1zM714 307h1v1h-1zM714 384h1v1h-1zM714 454h1v3h-1zM715 308h1v1h-1zM715 383h1v1h-1zM715 451h1v3h-1zM716 309h1v2h-1zM716 382h1v1h-1zM716 447h1v4h-1zM717 311h1v2h-1zM717 444h1v3h-1zM718 313h1v3h-1zM718 441h1v3h-1zM719 316h1v3h-1zM719 439h1v2h-1zM720 319h1v2h-1zM720 436h1v3h-1zM721 321h1v1h-1zM721 434h1v2h-1zM722 432h1v2h-1zM723 430h1v2h-1zM726 428h1v1h-1zM727 427h1v1h-1zM730 425h1v1h-1zM737 429h1v1h-1zM764 324h1v1h-1zM765 323h1v1h-1zM766 322h1v1h-1zM767 320h1v2h-1zM768 319h1v1h-1zM768 376h1v1h-1zM769 318h1v1h-1zM770 317h1v1h-1zM771 316h1v1h-1zM772 315h1v1h-1zM773 314h1v1h-1zM774 313h1v1h-1zM775 311h1v2h-1zM776 310h1v1h-1zM777 309h1v1h-1zM778 308h1v1h-1zM779 307h1v1h-1zM780 306h1v1h-1zM781 305h1v1h-1zM784 303h1v1h-1zM785 302h1v1h-1zM786 301h1v1h-1zM787 300h1v1h-1zM790 298h1v1h-1zM791 297h1v1h-1zM792 296h1v1h-1zM795 294h1v1h-1zM796 293h1v1h-1zM799 291h1v1h-1zM800 290h1v1h-1zM803 288h1v1h-1zM838 274h1v1h-1zM843 271h1v1h-1zM848 268h1v1h-1zM849 267h1v1h-1zM852 265h1v1h-1zM853 264h1v1h-1zM854 263h1v1h-1zM857 261h1v1h-1zM875 428h1v1h-1zM878 426h1v1h-1zM879 425h1v1h-1zM880 424h1v1h-1zM881 423h1v1h-1zM884 421h1v1h-1zM885 420h1v1h-1zM886 418h1v2h-1zM887 416h1v2h-1zM888 414h1v2h-1zM889 412h1v2h-1zM890 411h1v1h-1zM891 409h1v2h-1zM892 265h1v1h-1zM892 407h1v2h-1zM893 266h1v1h-1zM893 405h1v2h-1zM894 267h1v1h-1zM894 403h1v2h-1zM895 402h1v1h-1zM896 400h1v2h-1zM897 269h1v1h-1zM897 398h1v2h-1zM898 270h1v1h-1zM898 396h1v2h-1zM899 271h1v1h-1zM899 394h1v2h-1zM900 272h1v1h-1zM900 392h1v2h-1zM901 273h1v1h-1zM901 390h1v2h-1zM902 274h1v1h-1zM902 389h1v1h-1zM903 387h1v2h-1zM904 385h1v2h-1zM905 276h1v1h-1zM905 383h1v2h-1zM906 277h1v1h-1zM906 381h1v2h-1zM907 379h1v2h-1zM908 377h1v2h-1zM909 376h1v1h-1zM910 375h1v1h-1zM911 373h1v2h-1zM912 372h1v1h-1zM913 371h1v1h-1zM914 370h1v1h-1zM915 368h1v2h-1zM916 367h1v1h-1zM917 366h1v1h-1zM918 365h1v1h-1zM919 364h1v1h-1zM920 362h1v2h-1zM921 361h1v1h-1zM953 272h1v1h-1zM954 270h1v2h-1zM954 363h1v1h-1zM955 268h1v2h-1zM955 364h1v1h-1zM956 266h1v2h-1zM957 265h1v1h-1zM958 263h1v2h-1zM958 366h1v1h-1zM959 261h1v2h-1zM959 367h1v1h-1zM960 259h1v2h-1zM960 312h1v1h-1zM960 368h1v1h-1zM961 257h1v2h-1zM961 369h1v1h-1zM962 255h1v2h-1zM963 253h1v2h-1zM963 310h1v1h-1zM964 250h1v3h-1zM964 309h1v1h-1zM964 371h1v1h-1zM965 248h1v2h-1zM965 372h1v1h-1zM966 246h1v2h-1zM966 373h1v1h-1zM967 244h1v2h-1zM967 307h1v1h-1zM968 242h1v2h-1zM968 306h1v1h-1zM969 239h1v3h-1zM969 375h1v1h-1zM970 237h1v2h-1zM971 235h1v2h-1zM971 304h1v1h-1zM972 233h1v2h-1zM972 303h1v1h-1zM973 231h1v2h-1zM974 229h1v2h-1zM974 378h1v1h-1zM975 227h1v2h-1zM975 301h1v1h-1zM976 225h1v2h-1zM976 300h1v1h-1zM977 223h1v2h-1zM977 380h1v1h-1zM978 221h1v2h-1zM979 219h1v2h-1zM980 217h1v2h-1zM981 215h1v2h-1zM982 213h1v2h-1zM983 212h1v1h-1zM984 211h1v1h-1zM985 209h1v2h-1zM985 295h1v1h-1zM986 208h1v1h-1zM987 207h1v1h-1zM988 206h1v1h-1zM989 205h1v1h-1zM990 203h1v2h-1zM991 202h1v1h-1zM992 201h1v1h-1zM993 200h1v1h-1zM994 199h1v1h-1zM995 197h1v2h-1zM996 196h1v1h-1zM997 195h1v1h-1zM998 193h1v2h-1zM999 191h1v2h-1zM1000 190h1v1h-1zM1001 188h1v2h-1zM1002 186h1v2h-1zM1003 185h1v1h-1zM1004 183h1v2h-1zM1005 182h1v1h-1zM1006 180h1v2h-1zM1006 386h1v1h-1zM1007 178h1v2h-1zM1008 176h1v2h-1zM1009 174h1v2h-1zM1009 388h1v1h-1zM1010 172h1v2h-1zM1011 169h1v3h-1zM1012 167h1v2h-1zM1012 281h1v1h-1zM1012 390h1v1h-1zM1013 165h1v2h-1zM1013 280h1v1h-1zM1014 162h1v3h-1zM1014 279h1v1h-1zM1015 160h1v2h-1zM1015 392h1v1h-1zM1016 158h1v2h-1zM1016 393h1v1h-1zM1017 156h1v2h-1zM1017 277h1v1h-1zM1018 154h1v2h-1zM1018 276h1v1h-1zM1019 153h1v1h-1zM1019 275h1v1h-1zM1019 395h1v1h-1zM1020 152h1v1h-1zM1020 274h1v1h-1zM1020 394h1v1h-1zM1021 150h1v2h-1zM1021 273h1v1h-1zM1022 149h1v1h-1zM1023 148h1v1h-1zM1023 392h1v1h-1zM1024 146h1v2h-1zM1024 271h1v1h-1zM1024 391h1v1h-1zM1025 145h1v1h-1zM1025 270h1v1h-1zM1025 390h1v1h-1zM1026 144h1v1h-1zM1026 269h1v1h-1zM1027 143h1v1h-1zM1027 268h1v1h-1zM1028 142h1v1h-1zM1028 267h1v1h-1zM1028 388h1v1h-1zM1029 141h1v1h-1zM1029 266h1v1h-1zM1029 387h1v1h-1zM1030 265h1v1h-1zM1030 385h1v2h-1zM1031 264h1v1h-1zM1031 384h1v1h-1zM1032 139h1v1h-1zM1032 263h1v1h-1zM1032 382h1v2h-1zM1033 138h1v1h-1zM1033 261h1v2h-1zM1033 381h1v1h-1zM1034 137h1v1h-1zM1034 260h1v1h-1zM1034 380h1v1h-1zM1035 136h1v1h-1zM1035 259h1v1h-1zM1035 378h1v2h-1zM1036 258h1v1h-1zM1036 377h1v1h-1zM1037 257h1v1h-1zM1037 375h1v2h-1zM1038 256h1v1h-1zM1038 374h1v1h-1zM1039 255h1v1h-1zM1039 372h1v2h-1zM1040 254h1v1h-1zM1040 371h1v1h-1zM1041 253h1v1h-1zM1041 370h1v1h-1zM1042 252h1v1h-1zM1042 368h1v2h-1zM1043 251h1v1h-1zM1043 367h1v1h-1zM1044 365h1v2h-1zM1045 363h1v2h-1zM1046 249h1v1h-1zM1046 361h1v2h-1zM1047 248h1v1h-1zM1047 359h1v2h-1zM1048 247h1v1h-1zM1048 357h1v2h-1zM1049 246h1v1h-1zM1049 355h1v2h-1zM1050 245h1v1h-1zM1050 354h1v1h-1zM1051 244h1v1h-1zM1051 352h1v2h-1zM1052 350h1v2h-1zM1053 348h1v2h-1zM1054 242h1v1h-1zM1054 346h1v2h-1zM1055 241h1v1h-1zM1055 344h1v2h-1zM1056 240h1v1h-1zM1056 342h1v2h-1zM1057 239h1v1h-1zM1057 341h1v1h-1zM1058 340h1v1h-1zM1059 338h1v2h-1zM1060 337h1v1h-1zM1061 336h1v1h-1zM1062 236h1v1h-1zM1062 335h1v1h-1zM1063 333h1v2h-1zM1064 332h1v1h-1zM1065 331h1v1h-1zM1066 329h1v2h-1zM1067 233h1v1h-1zM1067 328h1v1h-1zM1068 327h1v1h-1zM1069 326h1v1h-1zM1070 231h1v1h-1zM1070 324h1v2h-1zM1071 323h1v1h-1zM1072 322h1v1h-1zM1073 320h1v2h-1zM1074 318h1v2h-1zM1075 317h1v1h-1zM1076 315h1v2h-1zM1077 314h1v1h-1zM1078 312h1v2h-1zM1079 310h1v2h-1zM1080 309h1v1h-1zM1081 307h1v2h-1zM1082 306h1v1h-1zM1083 304h1v2h-1zM1084 303h1v1h-1zM1085 301h1v2h-1zM1086 299h1v2h-1zM1087 298h1v1h-1zM1088 296h1v2h-1zM1089 295h1v1h-1zM1090 293h1v2h-1zM1115 294h1v1h-1zM1116 295h1v2h-1zM1117 297h1v1h-1zM1118 298h1v1h-1zM1119 299h1v2h-1zM1120 301h1v1h-1zM1121 302h1v1h-1zM1122 303h1v2h-1zM1123 305h1v1h-1zM1124 306h1v1h-1zM1125 307h1v2h-1zM1126 309h1v1h-1zM1127 310h1v2h-1zM1128 312h1v1h-1zM1129 313h1v2h-1zM1130 315h1v1h-1zM1131 226h1v1h-1zM1131 316h1v1h-1zM1132 317h1v2h-1zM1133 319h1v1h-1zM1134 320h1v2h-1zM1135 322h1v1h-1zM1136 229h1v1h-1zM1136 323h1v2h-1zM1137 325h1v1h-1zM1138 326h1v2h-1zM1139 231h1v1h-1zM1139 328h1v1h-1zM1140 329h1v2h-1zM1141 331h1v2h-1zM1142 233h1v1h-1zM1142 333h1v1h-1zM1143 334h1v2h-1zM1144 336h1v1h-1zM1145 337h1v2h-1zM1146 339h1v1h-1zM1147 236h1v1h-1zM1147 340h1v1h-1zM1148 341h1v2h-1zM1149 343h1v1h-1zM1150 344h1v1h-1zM1151 345h1v1h-1zM1152 239h1v1h-1zM1152 346h1v1h-1zM1153 347h1v2h-1zM1154 349h1v1h-1zM1155 241h1v1h-1zM1155 350h1v1h-1zM1156 351h1v1h-1zM1157 352h1v1h-1zM1160 244h1v1h-1zM1160 354h1v1h-1zM1161 245h1v1h-1zM1161 355h1v1h-1zM1162 136h1v1h-1zM1162 246h1v1h-1zM1163 137h1v1h-1zM1163 247h1v1h-1zM1164 138h1v1h-1zM1164 248h1v1h-1zM1164 357h1v1h-1zM1165 139h1v1h-1zM1165 249h1v1h-1zM1165 358h1v1h-1zM1166 140h1v1h-1zM1166 250h1v1h-1zM1166 359h1v1h-1zM1167 141h1v1h-1zM1167 251h1v1h-1zM1168 142h1v1h-1zM1168 252h1v1h-1zM1169 143h1v1h-1zM1169 253h1v1h-1zM1169 361h1v1h-1zM1170 144h1v1h-1zM1170 254h1v1h-1zM1171 145h1v2h-1zM1171 255h1v1h-1zM1172 147h1v2h-1zM1172 256h1v1h-1zM1173 149h1v2h-1zM1173 257h1v1h-1zM1174 151h1v1h-1zM1174 258h1v1h-1zM1175 152h1v2h-1zM1176 154h1v2h-1zM1177 156h1v1h-1zM1177 260h1v1h-1zM1178 157h1v2h-1zM1179 159h1v2h-1zM1180 161h1v2h-1zM1180 262h1v1h-1zM1181 163h1v1h-1zM1181 263h1v1h-1zM1182 164h1v1h-1zM1183 165h1v1h-1zM1184 166h1v2h-1zM1185 168h1v1h-1zM1186 169h1v1h-1zM1187 170h1v1h-1zM1225 165h1v1h-1zM1226 164h1v1h-1zM1227 163h1v1h-1zM1228 162h1v1h-1zM1229 161h1v1h-1zM1230 159h1v2h-1zM1230 370h1v1h-1zM1231 158h1v1h-1zM1232 157h1v1h-1zM1233 156h1v1h-1zM1234 155h1v1h-1zM1235 154h1v1h-1zM1236 153h1v1h-1zM1237 152h1v1h-1zM1238 151h1v1h-1zM1239 150h1v1h-1zM1240 148h1v2h-1zM1241 147h1v1h-1zM1242 146h1v1h-1zM1243 145h1v1h-1zM1244 144h1v1h-1zM1245 143h1v1h-1zM1246 142h1v1h-1zM1247 141h1v1h-1zM1248 140h1v1h-1zM1249 139h1v1h-1zM1252 137h1v1h-1zM1253 136h1v1h-1zM1254 135h1v1h-1zM1255 134h1v1h-1zM1260 254h1v1h-1zM1265 251h1v1h-1zM1273 367h1v1h-1zM1274 366h1v1h-1zM1276 245h1v1h-1zM1277 364h1v1h-1zM1278 363h1v1h-1zM1281 361h1v1h-1zM1282 360h1v1h-1zM1285 240h1v1h-1zM1285 358h1v1h-1zM1286 357h1v1h-1zM1287 356h1v1h-1zM1288 355h1v1h-1zM1289 354h1v1h-1zM1290 237h1v1h-1zM1290 353h1v1h-1zM1291 352h1v1h-1zM1292 350h1v2h-1zM1293 349h1v1h-1zM1294 348h1v1h-1zM1295 234h1v1h-1zM1295 347h1v1h-1zM1296 346h1v1h-1zM1297 345h1v1h-1zM1298 344h1v1h-1zM1299 343h1v1h-1zM1300 231h1v1h-1zM1300 341h1v2h-1zM1301 339h1v2h-1zM1302 338h1v1h-1zM1303 229h1v1h-1zM1303 336h1v2h-1zM1304 334h1v2h-1zM1305 333h1v1h-1zM1306 227h1v1h-1zM1306 331h1v2h-1zM1307 330h1v1h-1zM1308 328h1v2h-1zM1309 225h1v1h-1zM1309 326h1v2h-1zM1310 325h1v1h-1zM1311 323h1v2h-1zM1312 223h1v1h-1zM1312 321h1v2h-1zM1313 222h1v1h-1zM1313 319h1v2h-1zM1314 221h1v1h-1zM1314 317h1v2h-1zM1315 315h1v2h-1zM1316 313h1v2h-1zM1317 219h1v1h-1zM1317 311h1v2h-1zM1318 218h1v1h-1zM1318 309h1v2h-1zM1319 217h1v1h-1zM1319 307h1v2h-1zM1320 216h1v1h-1zM1320 305h1v2h-1zM1321 215h1v1h-1zM1321 303h1v2h-1zM1322 214h1v1h-1zM1322 301h1v2h-1zM1323 299h1v2h-1zM1324 297h1v2h-1zM1325 212h1v1h-1zM1325 295h1v2h-1zM1326 211h1v1h-1zM1326 293h1v2h-1zM1327 210h1v1h-1zM1327 291h1v2h-1zM1328 288h1v3h-1zM1329 286h1v2h-1zM1330 208h1v1h-1zM1330 284h1v2h-1zM1331 282h1v2h-1zM1332 133h1v1h-1zM1332 280h1v2h-1zM1333 134h1v2h-1zM1333 278h1v2h-1zM1334 136h1v1h-1zM1334 275h1v3h-1zM1335 137h1v1h-1zM1335 205h1v1h-1zM1335 273h1v2h-1zM1336 138h1v2h-1zM1336 270h1v3h-1zM1337 140h1v1h-1zM1337 267h1v3h-1zM1338 141h1v1h-1zM1338 265h1v2h-1zM1339 142h1v2h-1zM1339 262h1v3h-1zM1340 144h1v1h-1zM1340 260h1v2h-1zM1341 145h1v1h-1zM1341 257h1v3h-1zM1342 146h1v2h-1zM1342 255h1v2h-1zM1343 148h1v1h-1zM1343 252h1v3h-1zM1344 149h1v1h-1zM1344 250h1v2h-1zM1345 150h1v2h-1zM1345 248h1v2h-1zM1346 152h1v1h-1zM1346 246h1v1h-1zM1350 249h1v1h-1zM1351 250h1v1h-1zM1352 251h1v1h-1zM1353 252h1v1h-1zM1356 254h1v1h-1zM1357 255h1v1h-1zM1360 257h1v1h-1zM1361 258h1v1h-1zM1362 259h1v1h-1zM1365 261h1v1h-1zM1366 262h1v1h-1zM1373 266h1v1h-1zM1388 149h1v1h-1zM1389 150h1v1h-1zM1392 152h1v1h-1zM1393 153h1v1h-1zM1394 154h1v2h-1zM1395 156h1v1h-1zM1396 157h1v1h-1zM1397 158h1v2h-1zM1398 160h1v1h-1zM1399 161h1v1h-1zM1400 162h1v2h-1zM1401 164h1v1h-1zM1436 166h1v1h-1zM1437 270h1v1h-1zM1438 271h1v1h-1zM1439 164h1v1h-1zM1439 272h1v1h-1zM1440 163h1v1h-1zM1440 273h1v1h-1zM1441 274h1v1h-1zM1442 275h1v1h-1zM1443 276h1v1h-1zM1444 277h1v2h-1zM1445 279h1v1h-1zM1446 280h1v1h-1zM1447 281h1v2h-1zM1448 283h1v1h-1zM1449 284h1v1h-1zM1450 285h1v2h-1zM1451 287h1v1h-1zM1452 288h1v1h-1zM1453 289h1v1h-1zM1454 290h1v1h-1zM1455 291h1v1h-1zM1456 292h1v1h-1zM1457 293h1v1h-1zM1458 294h1v1h-1z" fill="#3cb371" shape-rendering="crispEdges"/>
<g shape-rendering="crispEdges">
<rect x="0" y="213" width="1652" height="1" fill="#ff0000"/>
<rect x="0" y="240" width="1652" height="1" fill="#ff4500"/>
<rect x="0" y="263" width="1652" height="1" fill="#32cd32"/>
<rect x="0" y="278" width="1652" height="1" fill="#c0c0c0"/>
<rect x="0" y="299" width="1652" height="1" fill="#0000ff"/>
<rect x="0" y="320" width="1652" height="1" fill="#0000ff"/>
<rect x="2" y="99" width="1" height="23" fill="#000"/>
<rect x="34" y="99" width="1" height="6" fill="#000"/>
<rect x="42" y="99" width="1" height="15" fill="#000"/>
<rect x="50" y="99" width="1" height="79" fill="#000"/>
<rect x="48" y="99" width="5" height="65" fill="#000"/>
<rect x="58" y="153" width="1" height="20" fill="#000"/>
<rect x="56" y="158" width="5" height="6" fill="#000"/>
<rect x="57" y="159" width="3" height="4" fill="#fff"/>
<rect x="66" y="165" width="1" height="18" fill="#000"/>
<rect x="64" y="167" width="5" height="3" fill="#000"/>
<rect x="74" y="165" width="1" height="23" fill="#000"/>
<rect x="72" y="166" width="5" height="3" fill="#000"/>
<rect x="73" y="167" width="3" height="1" fill="#fff"/>
<rect x="82" y="134" width="1" height="39" fill="#000"/>
<rect x="80" y="167" width="5" height="5" fill="#000"/>
<rect x="90" y="128" width="1" height="66" fill="#000"/>
<rect x="88" y="157" width="5" height="15" fill="#000"/>
<rect x="89" y="158" width="3" height="13" fill="#fff"/>
<rect x="98" y="136" width="1" height="65" fill="#000"/>
<rect x="96" y="157" width="5" height="36" fill="#000"/>
<rect x="106" y="181" width="1" height="27" fill="#000"/>
<rect x="104" y="194" width="5" height="6" fill="#000"/>
<rect x="114" y="195" width="1" height="10" fill="#000"/>
<rect x="112" y="199" width="5" height="1" fill="#000"/>
<rect x="122" y="192" width="1" height="23" fill="#000"/>
<rect x="120" y="198" width="5" height="2" fill="#000"/>
<rect x="130" y="178" width="1" height="31" fill="#000"/>
<rect x="128" y="190" width="5" height="8" fill="#000"/>
<rect x="129" y="191" width="3" height="6" fill="#fff"/>
<rect x="138" y="161" width="1" height="32" fill="#000"/>
<rect x="136" y="177" width="5" height="13" fill="#000"/>
<rect x="137" y="178" width="3" height="11" fill="#fff"/>
<rect x="146" y="167" width="1" height="53" fill="#000"/>
<rect x="144" y="177" width="5" height="36" fill="#000"/>
<rect x="154" y="204" width="1" height="24" fill="#000"/>
<rect x="152" y="211" width="5" height="5" fill="#000"/>
<rect x="162" y="207" width="1" height="17" fill="#000"/>
<rect x="160" y="215" width="5" height="2" fill="#000"/>
<rect x="170" y="214" width="1" height="26" fill="#000"/>
<rect x="168" y="215" width="5" height="11" fill="#000"/>
<rect x="178" y="218" width="1" height="32" fill="#000"/>
<rect x="176" y="225" width="5" height="18" fill="#000"/>
<rect x="186" y="222" width="1" height="42" fill="#000"/>
<rect x="184" y="224" width="5" height="19" fill="#000"/>
<rect x="185" y="225" width="3" height="17" fill="#fff"/>
<rect x="194" y="155" width="1" height="74" fill="#000"/>
<rect x="192" y="171" width="5" height="51" fill="#000"/>
<rect x="193" y="172" width="3" height="49" fill="#fff"/>
<rect x="202" y="138" width="1" height="38" fill="#000"/>
<rect x="200" y="163" width="5" height="9" fill="#000"/>
<rect x="201" y="164" width="3" height="7" fill="#fff"/>
<rect x="210" y="163" width="1" height="13" fill="#000"/>
<rect x="208" y="163" width="5" height="8" fill="#000"/>
<rect x="218" y="158" width="1" height="16" fill="#000"/>
<rect x="216" y="158" width="5" height="13" fill="#000"/>
<rect x="217" y="159" width="3" height="11" fill="#fff"/>
<rect x="226" y="152" width="1" height="35" fill="#000"/>
<rect x="224" y="154" width="5" height="5" fill="#000"/>
<rect x="225" y="155" width="3" height="3" fill="#fff"/>
<rect x="234" y="153" width="1" height="53" fill="#000"/>
<rect x="232" y="153" width="5" height="45" fill="#000"/>
<rect x="242" y="185" width="1" height="50" fill="#000"/>
<rect x="240" y="197" width="5" height="23" fill="#000"/>
<rect x="250" y="217" width="1" height="59" fill="#000"/>
<rect x="248" y="219" width="5" height="41" fill="#000"/>
<rect x="258" y="247" width="1" height="24" fill="#000"/>
<rect x="256" y="252" width="5" height="6" fill="#000"/>
<rect x="257" y="253" width="3" height="4" fill="#fff"/>
<rect x="266" y="243" width="1" height="20" fill="#000"/>
<rect x="264" y="248" width="5" height="3" fill="#000"/>
<rect x="265" y="249" width="3" height="1" fill="#fff"/>
<rect x="274" y="244" width="1" height="28" fill="#000"/>
<rect x="272" y="248" width="5" height="9" fill="#000"/>
<rect x="282" y="234" width="1" height="48" fill="#000"/>
<rect x="280" y="241" width="5" height="14" fill="#000"/>
<rect x="281" y="242" width="3" height="12" fill="#fff"/>
<rect x="290" y="176" width="1" height="66" fill="#000"/>
<rect x="288" y="186" width="5" height="55" fill="#000"/>
<rect x="289" y="187" width="3" height="53" fill="#fff"/>
<rect x="298" y="157" width="1" height="29" fill="#000"/>
<rect x="296" y="165" width="5" height="21" fill="#000"/>
<rect x="297" y="166" width="3" height="19" fill="#fff"/>
<rect x="306" y="165" width="1" height="12" fill="#000"/>
<rect x="304" y="169" width="5" height="6" fill="#000"/>
<rect x="314" y="169" width="1" height="24" fill="#000"/>
<rect x="312" y="173" width="5" height="17" fill="#000"/>
<rect x="322" y="176" width="1" height="36" fill="#000"/>
<rect x="320" y="187" width="5" height="3" fill="#000"/>
<rect x="321" y="188" width="3" height="1" fill="#fff"/>
<rect x="330" y="153" width="1" height="44" fill="#000"/>
<rect x="328" y="171" width="5" height="16" fill="#000"/>
<rect x="329" y="172" width="3" height="14" fill="#fff"/>
<rect x="338" y="161" width="1" height="66" fill="#000"/>
<rect x="336" y="170" width="5" height="28" fill="#000"/>
<rect x="346" y="190" width="1" height="25" fill="#000"/>
<rect x="344" y="197" width="5" height="14" fill="#000"/>
<rect x="354" y="202" width="1" height="13" fill="#000"/>
<rect x="352" y="208" width="5" height="3" fill="#000"/>
<rect x="353" y="209" width="3" height="1" fill="#fff"/>
<rect x="362" y="207" width="1" height="40" fill="#000"/>
<rect x="360" y="208" width="5" height="37" fill="#000"/>
<rect x="370" y="223" width="1" height="63" fill="#000"/>
<rect x="368" y="245" width="5" height="24" fill="#000"/>
<rect x="378" y="247" width="1" height="43" fill="#000"/>
<rect x="376" y="268" width="5" height="17" fill="#000"/>
<rect x="386" y="275" width="1" height="91" fill="#000"/>
<rect x="384" y="284" width="5" height="76" fill="#000"/>
<rect x="394" y="348" width="1" height="29" fill="#000"/>
<rect x="392" y="358" width="5" height="2" fill="#000"/>
<rect x="402" y="349" width="1" height="19" fill="#000"/>
<rect x="400" y="356" width="5" height="3" fill="#000"/>
<rect x="401" y="357" width="3" height="1" fill="#fff"/>
<rect x="410" y="328" width="1" height="33" fill="#000"/>
<rect x="408" y="337" width="5" height="19" fill="#000"/>
<rect x="409" y="338" width="3" height="17" fill="#fff"/>
<rect x="418" y="334" width="1" height="36" fill="#000"/>
<rect x="416" y="336" width="5" height="18" fill="#000"/>
<rect x="426" y="313" width="1" height="47" fill="#000"/>
<rect x="424" y="313" width="5" height="41" fill="#000"/>
<rect x="425" y="314" width="3" height="39" fill="#fff"/>
<rect x="434" y="311" width="1" height="38" fill="#000"/>
<rect x="432" y="314" width="5" height="33" fill="#000"/>
<rect x="442" y="289" width="1" height="60" fill="#000"/>
<rect x="440" y="331" width="5" height="15" fill="#000"/>
<rect x="441" y="332" width="3" height="13" fill="#fff"/>
<rect x="450" y="329" width="1" height="23" fill="#000"/>
<rect x="448" y="331" width="5" height="21" fill="#000"/>
<rect x="458" y="341" width="1" height="57" fill="#000"/>
<rect x="456" y="351" width="5" height="35" fill="#000"/>
<rect x="466" y="382" width="1" height="46" fill="#000"/>
<rect x="464" y="385" width="5" height="35" fill="#000"/>
<rect x="474" y="416" width="1" height="50" fill="#000"/>
<rect x="472" y="419" width="5" height="23" fill="#000"/>
<rect x="482" y="423" width="1" height="62" fill="#000"/>
<rect x="480" y="442" width="5" height="16" fill="#000"/>
<rect x="490" y="454" width="1" height="61" fill="#000"/>
<rect x="488" y="457" width="5" height="54" fill="#000"/>
<rect x="498" y="504" width="1" height="17" fill="#000"/>
<rect x="496" y="511" width="5" height="7" fill="#000"/>
<rect x="506" y="502" width="1" height="34" fill="#000"/>
<rect x="504" y="516" width="5" height="4" fill="#000"/>
<rect x="514" y="510" width="1" height="40" fill="#000"/>
<rect x="512" y="519" width="5" height="18" fill="#000"/>
<rect x="522" y="518" width="1" height="36" fill="#000"/>
<rect x="520" y="536" width="5" height="10" fill="#000"/>
<rect x="530" y="509" width="1" height="51" fill="#000"/>
<rect x="528" y="524" width="5" height="21" fill="#000"/>
<rect x="529" y="525" width="3" height="19" fill="#fff"/>
<rect x="538" y="512" width="1" height="22" fill="#000"/>
<rect x="536" y="525" width="5" height="5" fill="#000"/>
<rect x="546" y="522" width="1" height="10" fill="#000"/>
<rect x="544" y="526" width="5" height="5" fill="#000"/>
<rect x="545" y="527" width="3" height="3" fill="#fff"/>
<rect x="554" y="482" width="1" height="43" fill="#000"/>
<rect x="552" y="492" width="5" height="33" fill="#000"/>
<rect x="553" y="493" width="3" height="31" fill="#fff"/>
<rect x="562" y="470" width="1" height="45" fill="#000"/>
<rect x="560" y="489" width="5" height="3" fill="#000"/>
<rect x="561" y="490" width="3" height="1" fill="#fff"/>
<rect x="570" y="436" width="1" height="60" fill="#000"/>
<rect x="568" y="441" width="5" height="48" fill="#000"/>
<rect x="569" y="442" width="3" height="46" fill="#fff"/>
<rect x="578" y="383" width="1" height="62" fill="#000"/>
<rect x="576" y="391" width="5" height="49" fill="#000"/>
<rect x="577" y="392" width="3" height="47" fill="#fff"/>
<rect x="586" y="368" width="1" height="25" fill="#000"/>
<rect x="584" y="373" width="5" height="19" fill="#000"/>
<rect x="585" y="374" width="3" height="17" fill="#fff"/>
<rect x="594" y="370" width="1" height="29" fill="#000"/>
<rect x="592" y="373" width="5" height="9" fill="#000"/>
<rect x="602" y="377" width="1" height="23" fill="#000"/>
<rect x="600" y="383" width="5" height="7" fill="#000"/>
<rect x="610" y="345" width="1" height="50" fill="#000"/>
<rect x="608" y="389" width="5" height="2" fill="#000"/>
<rect x="618" y="367" width="1" height="58" fill="#000"/>
<rect x="616" y="384" width="5" height="8" fill="#000"/>
<rect x="617" y="385" width="3" height="6" fill="#fff"/>
<rect x="626" y="345" width="1" height="61" fill="#000"/>
<rect x="624" y="384" width="5" height="10" fill="#000"/>
<rect x="634" y="368" width="1" height="31" fill="#000"/>
<rect x="632" y="368" width="5" height="25" fill="#000"/>
<rect x="633" y="369" width="3" height="23" fill="#fff"/>
<rect x="642" y="368" width="1" height="16" fill="#000"/>
<rect x="640" y="368" width="5" height="11" fill="#000"/>
<rect x="650" y="368" width="1" height="27" fill="#000"/>
<rect x="648" y="379" width="5" height="10" fill="#000"/>
<rect x="658" y="375" width="1" height="31" fill="#000"/>
<rect x="656" y="387" width="5" height="2" fill="#000"/>
<rect x="666" y="351" width="1" height="47" fill="#000"/>
<rect x="664" y="388" width="5" height="4" fill="#000"/>
<rect x="674" y="361" width="1" height="60" fill="#000"/>
<rect x="672" y="384" width="5" height="8" fill="#000"/>
<rect x="673" y="385" width="3" height="6" fill="#fff"/>
<rect x="682" y="316" width="1" height="69" fill="#000"/>
<rect x="680" y="326" width="5" height="58" fill="#000"/>
<rect x="681" y="327" width="3" height="56" fill="#fff"/>
<rect x="690" y="319" width="1" height="15" fill="#000"/>
<rect x="688" y="320" width="5" height="6" fill="#000"/>
<rect x="689" y="321" width="3" height="4" fill="#fff"/>
<rect x="698" y="315" width="1" height="28" fill="#000"/>
<rect x="696" y="320" width="5" height="18" fill="#000"/>
<rect x="706" y="327" width="1" height="33" fill="#000"/>
<rect x="704" y="338" width="5" height="7" fill="#000"/>
<rect x="714" y="341" width="1" height="29" fill="#000"/>
<rect x="712" y="345" width="5" height="20" fill="#000"/>
<rect x="722" y="362" width="1" height="39" fill="#000"/>
<rect x="720" y="364" width="5" height="33" fill="#000"/>
<rect x="730" y="391" width="1" height="40" fill="#000"/>
<rect x="728" y="397" width="5" height="19" fill="#000"/>
<rect x="738" y="410" width="1" height="12" fill="#000"/>
<rect x="736" y="415" width="5" height="2" fill="#000"/>
<rect x="746" y="415" width="1" height="30" fill="#000"/>
<rect x="744" y="415" width="5" height="5" fill="#000"/>
<rect x="754" y="384" width="1" height="39" fill="#000"/>
<rect x="752" y="391" width="5" height="29" fill="#000"/>
<rect x="753" y="392" width="3" height="27" fill="#fff"/>
<rect x="762" y="383" width="1" height="41" fill="#000"/>
<rect x="760" y="386" width="5" height="6" fill="#000"/>
<rect x="761" y="387" width="3" height="4" fill="#fff"/>
<rect x="770" y="296" width="1" height="117" fill="#000"/>
<rect x="768" y="316" width="5" height="69" fill="#000"/>
<rect x="769" y="317" width="3" height="67" fill="#fff"/>
<rect x="778" y="297" width="1" height="26" fill="#000"/>
<rect x="776" y="315" width="5" height="1" fill="#000"/>
<rect x="786" y="317" width="1" height="9" fill="#000"/>
<rect x="784" y="320" width="5" height="4" fill="#000"/>
<rect x="794" y="304" width="1" height="29" fill="#000"/>
<rect x="792" y="312" width="5" height="11" fill="#000"/>
<rect x="793" y="313" width="3" height="9" fill="#fff"/>
<rect x="802" y="304" width="1" height="37" fill="#000"/>
<rect x="800" y="313" width="5" height="4" fill="#000"/>
<rect x="810" y="309" width="1" height="36" fill="#000"/>
<rect x="808" y="316" width="5" height="10" fill="#000"/>
<rect x="818" y="315" width="1" height="51" fill="#000"/>
<rect x="816" y="327" width="5" height="4" fill="#000"/>
<rect x="826" y="315" width="1" height="21" fill="#000"/>
<rect x="824" y="325" width="5" height="5" fill="#000"/>
<rect x="825" y="326" width="3" height="3" fill="#fff"/>
<rect x="834" y="324" width="1" height="12" fill="#000"/>
<rect x="832" y="326" width="5" height="3" fill="#000"/>
<rect x="842" y="300" width="1" height="33" fill="#000"/>
<rect x="840" y="302" width="5" height="28" fill="#000"/>
<rect x="841" y="303" width="3" height="26" fill="#fff"/>
<rect x="850" y="266" width="1" height="41" fill="#000"/>
<rect x="848" y="291" width="5" height="11" fill="#000"/>
<rect x="849" y="292" width="3" height="9" fill="#fff"/>
<rect x="858" y="279" width="1" height="49" fill="#000"/>
<rect x="856" y="284" width="5" height="7" fill="#000"/>
<rect x="857" y="285" width="3" height="5" fill="#fff"/>
<rect x="866" y="257" width="1" height="96" fill="#000"/>
<rect x="864" y="284" width="5" height="62" fill="#000"/>
<rect x="874" y="327" width="1" height="23" fill="#000"/>
<rect x="872" y="343" width="5" height="2" fill="#000"/>
<rect x="882" y="329" width="1" height="16" fill="#000"/>
<rect x="880" y="338" width="5" height="7" fill="#000"/>
<rect x="881" y="339" width="3" height="5" fill="#fff"/>
<rect x="890" y="332" width="1" height="38" fill="#000"/>
<rect x="888" y="337" width="5" height="24" fill="#000"/>
<rect x="898" y="319" width="1" height="50" fill="#000"/>
<rect x="896" y="331" width="5" height="30" fill="#000"/>
<rect x="897" y="332" width="3" height="28" fill="#fff"/>
<rect x="906" y="319" width="1" height="32" fill="#000"/>
<rect x="904" y="330" width="5" height="2" fill="#000"/>
<rect x="914" y="270" width="1" height="61" fill="#000"/>
<rect x="912" y="283" width="5" height="48" fill="#000"/>
<rect x="913" y="284" width="3" height="46" fill="#fff"/>
<rect x="922" y="276" width="1" height="40" fill="#000"/>
<rect x="920" y="283" width="5" height="30" fill="#000"/>
<rect x="930" y="306" width="1" height="11" fill="#000"/>
<rect x="928" y="310" width="5" height="3" fill="#000"/>
<rect x="929" y="311" width="3" height="1" fill="#fff"/>
<rect x="938" y="296" width="1" height="21" fill="#000"/>
<rect x="936" y="306" width="5" height="4" fill="#000"/>
<rect x="937" y="307" width="3" height="2" fill="#fff"/>
<rect x="946" y="280" width="1" height="32" fill="#000"/>
<rect x="944" y="283" width="5" height="24" fill="#000"/>
<rect x="945" y="284" width="3" height="22" fill="#fff"/>
<rect x="954" y="265" width="1" height="34" fill="#000"/>
<rect x="952" y="282" width="5" height="3" fill="#000"/>
<rect x="953" y="283" width="3" height="1" fill="#fff"/>
<rect x="962" y="214" width="1" height="81" fill="#000"/>
<rect x="960" y="233" width="5" height="49" fill="#000"/>
<rect x="961" y="234" width="3" height="47" fill="#fff"/>
<rect x="970" y="209" width="1" height="26" fill="#000"/>
<rect x="968" y="213" width="5" height="21" fill="#000"/>
<rect x="969" y="214" width="3" height="19" fill="#fff"/>
<rect x="978" y="211" width="1" height="10" fill="#000"/>
<rect x="976" y="214" width="5" height="1" fill="#000"/>
<rect x="986" y="201" width="1" height="20" fill="#000"/>
<rect x="984" y="214" width="5" height="2" fill="#000"/>
<rect x="994" y="211" width="1" height="21" fill="#000"/>
<rect x="992" y="217" width="5" height="14" fill="#000"/>
<rect x="1002" y="206" width="1" height="36" fill="#000"/>
<rect x="1000" y="220" width="5" height="11" fill="#000"/>
<rect x="1001" y="221" width="3" height="9" fill="#fff"/>
<rect x="1010" y="158" width="1" height="78" fill="#000"/>
<rect x="1008" y="177" width="5" height="42" fill="#000"/>
<rect x="1009" y="178" width="3" height="40" fill="#fff"/>
<rect x="1018" y="132" width="1" height="48" fill="#000"/>
<rect x="1016" y="151" width="5" height="26" fill="#000"/>
<rect x="1017" y="152" width="3" height="24" fill="#fff"/>
<rect x="1026" y="173" width="1" height="11" fill="#000"/>
<rect x="1024" y="177" width="5" height="6" fill="#000"/>
<rect x="1034" y="179" width="1" height="17" fill="#000"/>
<rect x="1032" y="183" width="5" height="9" fill="#000"/>
<rect x="1042" y="185" width="1" height="30" fill="#000"/>
<rect x="1040" y="191" width="5" height="21" fill="#000"/>
<rect x="1050" y="199" width="1" height="23" fill="#000"/>
<rect x="1048" y="200" width="5" height="9" fill="#000"/>
<rect x="1049" y="201" width="3" height="7" fill="#fff"/>
<rect x="1058" y="199" width="1" height="41" fill="#000"/>
<rect x="1056" y="199" width="5" height="29" fill="#000"/>
<rect x="1066" y="214" width="1" height="14" fill="#000"/>
<rect x="1064" y="218" width="5" height="10" fill="#000"/>
<rect x="1065" y="219" width="3" height="8" fill="#fff"/>
<rect x="1074" y="208" width="1" height="18" fill="#000"/>
<rect x="1072" y="212" width="5" height="6" fill="#000"/>
<rect x="1073" y="213" width="3" height="4" fill="#fff"/>
<rect x="1082" y="184" width="1" height="28" fill="#000"/>
<rect x="1080" y="199" width="5" height="12" fill="#000"/>
<rect x="1081" y="200" width="3" height="10" fill="#fff"/>
<rect x="1090" y="189" width="1" height="49" fill="#000"/>
<rect x="1088" y="198" width="5" height="23" fill="#000"/>
<rect x="1098" y="220" width="1" height="96" fill="#000"/>
<rect x="1096" y="220" width="5" height="86" fill="#000"/>
<rect x="1106" y="267" width="1" height="48" fill="#000"/>
<rect x="1104" y="282" width="5" height="23" fill="#000"/>
<rect x="1105" y="283" width="3" height="21" fill="#fff"/>
<rect x="1114" y="273" width="1" height="26" fill="#000"/>
<rect x="1112" y="282" width="5" height="14" fill="#000"/>
<rect x="1122" y="287" width="1" height="12" fill="#000"/>
<rect x="1120" y="295" width="5" height="4" fill="#000"/>
<rect x="1130" y="281" width="1" height="24" fill="#000"/>
<rect x="1128" y="299" width="5" height="1" fill="#000"/>
<rect x="1138" y="293" width="1" height="40" fill="#000"/>
<rect x="1136" y="298" width="5" height="22" fill="#000"/>
<rect x="1146" y="299" width="1" height="42" fill="#000"/>
<rect x="1144" y="315" width="5" height="5" fill="#000"/>
<rect x="1145" y="316" width="3" height="3" fill="#fff"/>
<rect x="1154" y="302" width="1" height="75" fill="#000"/>
<rect x="1152" y="314" width="5" height="9" fill="#000"/>
<rect x="1162" y="290" width="1" height="41" fill="#000"/>
<rect x="1160" y="306" width="5" height="16" fill="#000"/>
<rect x="1161" y="307" width="3" height="14" fill="#fff"/>
<rect x="1170" y="302" width="1" height="19" fill="#000"/>
<rect x="1168" y="307" width="5" height="11" fill="#000"/>
<rect x="1178" y="306" width="1" height="23" fill="#000"/>
<rect x="1176" y="316" width="5" height="6" fill="#000"/>
<rect x="1186" y="278" width="1" height="59" fill="#000"/>
<rect x="1184" y="286" width="5" height="36" fill="#000"/>
<rect x="1185" y="287" width="3" height="34" fill="#fff"/>
<rect x="1194" y="212" width="1" height="76" fill="#000"/>
<rect x="1192" y="213" width="5" height="75" fill="#000"/>
<rect x="1193" y="214" width="3" height="73" fill="#fff"/>
<rect x="1202" y="188" width="1" height="50" fill="#000"/>
<rect x="1200" y="188" width="5" height="25" fill="#000"/>
<rect x="1201" y="189" width="3" height="23" fill="#fff"/>
<rect x="1210" y="175" width="1" height="41" fill="#000"/>
<rect x="1208" y="189" width="5" height="23" fill="#000"/>
<rect x="1218" y="208" width="1" height="14" fill="#000"/>
<rect x="1216" y="211" width="5" height="2" fill="#000"/>
<rect x="1226" y="191" width="1" height="29" fill="#000"/>
<rect x="1224" y="192" width="5" height="19" fill="#000"/>
<rect x="1225" y="193" width="3" height="17" fill="#fff"/>
<rect x="1234" y="151" width="1" height="57" fill="#000"/>
<rect x="1232" y="159" width="5" height="33" fill="#000"/>
<rect x="1233" y="160" width="3" height="31" fill="#fff"/>
<rect x="1242" y="142" width="1" height="32" fill="#000"/>
<rect x="1240" y="144" width="5" height="16" fill="#000"/>
<rect x="1241" y="145" width="3" height="14" fill="#fff"/>
<rect x="1250" y="138" width="1" height="69" fill="#000"/>
<rect x="1248" y="143" width="5" height="57" fill="#000"/>
<rect x="1258" y="180" width="1" height="32" fill="#000"/>
<rect x="1256" y="199" width="5" height="3" fill="#000"/>
<rect x="1266" y="206" width="1" height="11" fill="#000"/>
<rect x="1264" y="211" width="5" height="5" fill="#000"/>
<rect x="1265" y="212" width="3" height="3" fill="#fff"/>
<rect x="1274" y="200" width="1" height="30" fill="#000"/>
<rect x="1272" y="209" width="5" height="1" fill="#000"/>
<rect x="1282" y="208" width="1" height="65" fill="#000"/>
<rect x="1280" y="208" width="5" height="36" fill="#000"/>
<rect x="1290" y="220" width="1" height="38" fill="#000"/>
<rect x="1288" y="230" width="5" height="14" fill="#000"/>
<rect x="1289" y="231" width="3" height="12" fill="#fff"/>
<rect x="1298" y="192" width="1" height="56" fill="#000"/>
<rect x="1296" y="204" width="5" height="26" fill="#000"/>
<rect x="1297" y="205" width="3" height="24" fill="#fff"/>
<rect x="1306" y="201" width="1" height="29" fill="#000"/>
<rect x="1304" y="203" width="5" height="14" fill="#000"/>
<rect x="1314" y="205" width="1" height="14" fill="#000"/>
<rect x="1312" y="212" width="5" height="4" fill="#000"/>
<rect x="1313" y="213" width="3" height="2" fill="#fff"/>
<rect x="1322" y="193" width="1" height="24" fill="#000"/>
<rect x="1320" y="201" width="5" height="11" fill="#000"/>
<rect x="1321" y="202" width="3" height="9" fill="#fff"/>
<rect x="1330" y="146" width="1" height="79" fill="#000"/>
<rect x="1328" y="156" width="5" height="45" fill="#000"/>
<rect x="1329" y="157" width="3" height="43" fill="#fff"/>
<rect x="1338" y="148" width="1" height="43" fill="#000"/>
<rect x="1336" y="155" width="5" height="35" fill="#000"/>
<rect x="1346" y="100" width="1" height="109" fill="#000"/>
<rect x="1344" y="189" width="5" height="10" fill="#000"/>
<rect x="1354" y="184" width="1" height="74" fill="#000"/>
<rect x="1352" y="198" width="5" height="60" fill="#000"/>
<rect x="1362" y="254" width="1" height="5" fill="#000"/>
<rect x="1360" y="256" width="5" height="1" fill="#000"/>
<rect x="1370" y="249" width="1" height="10" fill="#000"/>
<rect x="1368" y="256" width="5" height="3" fill="#000"/>
<rect x="1378" y="212" width="1" height="60" fill="#000"/>
<rect x="1376" y="228" width="5" height="34" fill="#000"/>
<rect x="1377" y="229" width="3" height="32" fill="#fff"/>
<rect x="1386" y="204" width="1" height="42" fill="#000"/>
<rect x="1384" y="227" width="5" height="6" fill="#000"/>
<rect x="1394" y="188" width="1" height="62" fill="#000"/>
<rect x="1392" y="216" width="5" height="16" fill="#000"/>
<rect x="1393" y="217" width="3" height="14" fill="#fff"/>
<rect x="1402" y="199" width="1" height="32" fill="#000"/>
<rect x="1400" y="200" width="5" height="15" fill="#000"/>
<rect x="1401" y="201" width="3" height="13" fill="#fff"/>
<rect x="1410" y="190" width="1" height="29" fill="#000"/>
<rect x="1408" y="197" width="5" height="3" fill="#000"/>
<rect x="1409" y="198" width="3" height="1" fill="#fff"/>
<rect x="1418" y="191" width="1" height="27" fill="#000"/>
<rect x="1416" y="198" width="5" height="20" fill="#000"/>
<rect x="1426" y="217" width="1" height="34" fill="#000"/>
<rect x="1424" y="217" width="5" height="19" fill="#000"/>
<rect x="1434" y="207" width="1" height="52" fill="#000"/>
<rect x="1432" y="211" width="5" height="25" fill="#000"/>
<rect x="1433" y="212" width="3" height="23" fill="#fff"/>
<rect x="1442" y="211" width="1" height="109" fill="#000"/>
<rect x="1440" y="212" width="5" height="81" fill="#000"/>
<rect x="1450" y="268" width="1" height="35" fill="#000"/>
<rect x="1448" y="279" width="5" height="14" fill="#000"/>
<rect x="1449" y="280" width="3" height="12" fill="#fff"/>
<rect x="1458" y="269" width="1" height="19" fill="#000"/>
<rect x="1456" y="278" width="5" height="1" fill="#000"/>
</g>
</g>
<rect x="1346" y="259" width="155" height="9" fill="#00ff00" shape-rendering="crispEdges"/>
<rect x="1647.5" y="211.5" width="4" height="4" fill="#fff" stroke="#ff0000" stroke-width="1"/>
<rect x="1647.5" y="238.5" width="4" height="4" fill="#fff" stroke="#ff4500" stroke-width="1"/>
<rect x="1647.5" y="261.5" width="4" height="4" fill="#fff" stroke="#32cd32" stroke-width="1"/>
<rect x="1647.5" y="297.5" width="4" height="4" fill="#fff" stroke="#0000ff" stroke-width="1"/>
<rect x="1647.5" y="318.5" width="4" height="4" fill="#fff" stroke="#0000ff" stroke-width="1"/>
<rect x="1253.5" y="251.5" width="73" height="24" fill="#fff" stroke="#ff0000" stroke-width="1"/>
<text x="1255.5" y="271.8" font-size="21.8" fill="#ff0000" stroke="#ff0000" stroke-width="0.35" textLength="69.5" lengthAdjust="spacingAndGlyphs">1.38020</text>
<rect x="1282" y="251" width="1" height="22" fill="#000"/>
<rect x="1290" y="251" width="1" height="7" fill="#000"/>
<rect x="1243" y="263" width="7" height="1" fill="#ff0000"/><rect x="1250.5" y="261.5" width="2" height="3" fill="#fff" stroke="#ff0000"/>
<rect x="1275.5" y="91.5" width="61" height="18" fill="#fff" stroke="#ff0000" stroke-width="1"/>
<text x="1278" y="107" font-size="16" fill="#ff0000" stroke="#ff0000" stroke-width="0.1" textLength="57" lengthAdjust="spacingAndGlyphs">1.39125</text>
<rect x="1337" y="100" width="10" height="1" fill="#ff0000"/>
<rect x="1084.5" y="368.5" width="60" height="18" fill="#fff" stroke="#ff0000" stroke-width="1"/>
<text x="1087" y="384" font-size="16" fill="#ff0000" stroke="#ff0000" stroke-width="0.1" textLength="55" lengthAdjust="spacingAndGlyphs">1.37250</text>
<rect x="1145" y="377" width="10" height="1" fill="#ff0000"/>
<rect x="460.5" y="550.5" width="60" height="18" fill="#fff" stroke="#ff0000" stroke-width="1"/>
<text x="463" y="566" font-size="16" fill="#ff0000" stroke="#ff0000" stroke-width="0.1" textLength="55" lengthAdjust="spacingAndGlyphs">1.36017</text>
<rect x="521" y="558" width="10" height="1" fill="#ff0000"/>
<rect x="1371.5" y="311.5" width="61" height="18" fill="#fff" stroke="#ff0000" stroke-width="1"/>
<text x="1374" y="327" font-size="16" fill="#ff0000" stroke="#ff0000" stroke-width="0.1" textLength="56" lengthAdjust="spacingAndGlyphs">1.37634</text>
<rect x="1433.5" y="318.5" width="3" height="3" fill="#fff" stroke="#ff0000"/><rect x="1437" y="320" width="5" height="1" fill="#ff0000"/>
<line x1="1346.5" y1="113.0" x2="1369.4" y2="270.1" stroke="#ff0000" stroke-width="2.9" stroke-linecap="butt" shape-rendering="crispEdges"/>
<polygon points="1371.0,281.0 1363.9,268.9 1374.4,267.4" fill="#ff0000" shape-rendering="crispEdges"/>
<line x1="1371.0" y1="281.0" x2="1415.7" y2="197.9" stroke="#ff0000" stroke-width="2.9" stroke-linecap="butt" shape-rendering="crispEdges"/>
<polygon points="1420.0,190.0 1419.6,202.3 1409.9,197.1" fill="#ff0000" shape-rendering="crispEdges"/>
<line x1="1420.0" y1="190.0" x2="1453.5" y2="304.4" stroke="#ff0000" stroke-width="2.9" stroke-linecap="butt" shape-rendering="crispEdges"/>
<polygon points="1456.0,313.0 1448.3,303.8 1457.5,301.1" fill="#ff0000" shape-rendering="crispEdges"/>
<rect x="1499.5" y="272.5" width="110" height="24" fill="#fff" stroke="#404040" stroke-width="1"/>
<rect x="1500" y="278" width="110" height="1" fill="#c0c0c0"/>
<rect x="1552" y="270" width="3" height="2" fill="#ff00ff"/>
<text x="1499.3" y="292.2" font-size="21" fill="#00ff00" textLength="110" lengthAdjust="spacingAndGlyphs" style="font-family:'Liberation Sans','Noto Sans CJK SC',sans-serif">多空转折点</text>
<rect x="0" y="40" width="216" height="57" fill="#fff"/>
<rect x="0" y="40" width="48.5" height="24" fill="url(#gb1)"/>
<rect x="164.5" y="40" width="51.5" height="24" fill="url(#gb1)"/>
<rect x="0" y="64" width="106" height="33" fill="url(#gb2)"/>
<rect x="108" y="64" width="108" height="33" fill="url(#gb2)"/>
<rect x="1" y="63" width="44" height="1" fill="#8a8af5"/>
<rect x="168" y="63" width="44" height="1" fill="#8a8af5"/>
<rect x="48.5" y="40" width="116" height="23" fill="#f0f0f0"/>
<rect x="51.5" y="40.5" width="110" height="21" fill="#fff" stroke="#a0a0a0"/>
<rect x="52.5" y="41.5" width="19" height="19" fill="url(#gbtn)" stroke="#b8b8b8"/>
<rect x="141.500" y="41.5" width="19" height="19" fill="url(#gbtn)" stroke="#b8b8b8"/>
<polygon points="58.5,49 65,49 61.8,53" fill="#5a6eb4"/><polygon points="147.5,53 154,53 150.8,49" fill="#5a6eb4"/>
<text x="113" y="56" font-size="12" fill="#000" textLength="23.5" lengthAdjust="spacingAndGlyphs">1.00</text>
<text x="9" y="56" font-size="12" fill="#fff" textLength="26" lengthAdjust="spacingAndGlyphs">SELL</text>
<text x="177" y="56" font-size="12" fill="#fff" textLength="24" lengthAdjust="spacingAndGlyphs">BUY</text>
<text x="17.5" y="91.5" font-size="10.5" fill="#fff" font-weight="bold" textLength="22.5" lengthAdjust="spacingAndGlyphs">1.37</text>
<text x="127.5" y="91.5" font-size="10.5" fill="#fff" font-weight="bold" textLength="22.5" lengthAdjust="spacingAndGlyphs">1.37</text>
<text x="44.5" y="92.3" font-size="33.5" fill="#fff" textLength="34" lengthAdjust="spacingAndGlyphs">92</text>
<text x="155.5" y="92.3" font-size="33.5" fill="#fff" textLength="34" lengthAdjust="spacingAndGlyphs">95</text>
<text x="84" y="76" font-size="10.5" fill="#fff" font-weight="bold">0</text>
<text x="195.3" y="76" font-size="10.5" fill="#fff" font-weight="bold">2</text>
<polygon points="0,26 0,31 5,31" fill="#000"/>
<text x="9" y="32.1" font-size="9.5" fill="#000" textLength="204" lengthAdjust="spacingAndGlyphs">GBPUSD-,H4  1.37919 1.37981 1.37859 1.37920</text>
<rect x="81" y="37" width="3" height="1" fill="#3cb371"/>
<g shape-rendering="crispEdges">
<rect x="2" y="626" width="1" height="13" fill="#c0c0c0"/>
<rect x="10" y="626" width="1" height="13" fill="#c0c0c0"/>
<rect x="18" y="627" width="1" height="12" fill="#c0c0c0"/>
<rect x="26" y="628" width="1" height="11" fill="#c0c0c0"/>
<rect x="34" y="628" width="1" height="11" fill="#c0c0c0"/>
<rect x="42" y="629" width="1" height="10" fill="#c0c0c0"/>
<rect x="50" y="636" width="1" height="3" fill="#c0c0c0"/>
<rect x="58" y="638" width="1" height="2" fill="#c0c0c0"/>
<rect x="66" y="638" width="1" height="8" fill="#c0c0c0"/>
<rect x="74" y="638" width="1" height="13" fill="#c0c0c0"/>
<rect x="82" y="638" width="1" height="16" fill="#c0c0c0"/>
<rect x="90" y="638" width="1" height="16" fill="#c0c0c0"/>
<rect x="98" y="638" width="1" height="21" fill="#c0c0c0"/>
<rect x="106" y="638" width="1" height="25" fill="#c0c0c0"/>
<rect x="114" y="638" width="1" height="28" fill="#c0c0c0"/>
<rect x="122" y="638" width="1" height="30" fill="#c0c0c0"/>
<rect x="130" y="638" width="1" height="29" fill="#c0c0c0"/>
<rect x="138" y="638" width="1" height="27" fill="#c0c0c0"/>
<rect x="146" y="638" width="1" height="30" fill="#c0c0c0"/>
<rect x="154" y="638" width="1" height="32" fill="#c0c0c0"/>
<rect x="162" y="638" width="1" height="32" fill="#c0c0c0"/>
<rect x="170" y="638" width="1" height="34" fill="#c0c0c0"/>
<rect x="178" y="638" width="1" height="36" fill="#c0c0c0"/>
<rect x="186" y="638" width="1" height="36" fill="#c0c0c0"/>
<rect x="194" y="638" width="1" height="30" fill="#c0c0c0"/>
<rect x="202" y="638" width="1" height="24" fill="#c0c0c0"/>
<rect x="210" y="638" width="1" height="19" fill="#c0c0c0"/>
<rect x="218" y="638" width="1" height="15" fill="#c0c0c0"/>
<rect x="226" y="638" width="1" height="11" fill="#c0c0c0"/>
<rect x="234" y="638" width="1" height="11" fill="#c0c0c0"/>
<rect x="242" y="638" width="1" height="15" fill="#c0c0c0"/>
<rect x="250" y="638" width="1" height="22" fill="#c0c0c0"/>
<rect x="258" y="638" width="1" height="25" fill="#c0c0c0"/>
<rect x="266" y="638" width="1" height="26" fill="#c0c0c0"/>
<rect x="274" y="638" width="1" height="29" fill="#c0c0c0"/>
<rect x="282" y="638" width="1" height="29" fill="#c0c0c0"/>
<rect x="290" y="638" width="1" height="22" fill="#c0c0c0"/>
<rect x="298" y="638" width="1" height="16" fill="#c0c0c0"/>
<rect x="306" y="638" width="1" height="11" fill="#c0c0c0"/>
<rect x="314" y="638" width="1" height="8" fill="#c0c0c0"/>
<rect x="322" y="638" width="1" height="6" fill="#c0c0c0"/>
<rect x="330" y="638" width="1" height="3" fill="#c0c0c0"/>
<rect x="338" y="638" width="1" height="3" fill="#c0c0c0"/>
<rect x="346" y="638" width="1" height="5" fill="#c0c0c0"/>
<rect x="354" y="638" width="1" height="7" fill="#c0c0c0"/>
<rect x="362" y="638" width="1" height="10" fill="#c0c0c0"/>
<rect x="370" y="638" width="1" height="15" fill="#c0c0c0"/>
<rect x="378" y="638" width="1" height="21" fill="#c0c0c0"/>
<rect x="386" y="638" width="1" height="33" fill="#c0c0c0"/>
<rect x="394" y="638" width="1" height="42" fill="#c0c0c0"/>
<rect x="402" y="638" width="1" height="48" fill="#c0c0c0"/>
<rect x="410" y="638" width="1" height="51" fill="#c0c0c0"/>
<rect x="418" y="638" width="1" height="54" fill="#c0c0c0"/>
<rect x="426" y="638" width="1" height="52" fill="#c0c0c0"/>
<rect x="434" y="638" width="1" height="52" fill="#c0c0c0"/>
<rect x="442" y="638" width="1" height="50" fill="#c0c0c0"/>
<rect x="450" y="638" width="1" height="51" fill="#c0c0c0"/>
<rect x="458" y="638" width="1" height="55" fill="#c0c0c0"/>
<rect x="466" y="638" width="1" height="60" fill="#c0c0c0"/>
<rect x="474" y="638" width="1" height="66" fill="#c0c0c0"/>
<rect x="482" y="638" width="1" height="71" fill="#c0c0c0"/>
<rect x="490" y="638" width="1" height="80" fill="#c0c0c0"/>
<rect x="498" y="638" width="1" height="87" fill="#c0c0c0"/>
<rect x="506" y="638" width="1" height="91" fill="#c0c0c0"/>
<rect x="514" y="638" width="1" height="95" fill="#c0c0c0"/>
<rect x="522" y="638" width="1" height="98" fill="#c0c0c0"/>
<rect x="530" y="638" width="1" height="98" fill="#c0c0c0"/>
<rect x="538" y="638" width="1" height="97" fill="#c0c0c0"/>
<rect x="546" y="638" width="1" height="93" fill="#c0c0c0"/>
<rect x="554" y="638" width="1" height="88" fill="#c0c0c0"/>
<rect x="562" y="638" width="1" height="82" fill="#c0c0c0"/>
<rect x="570" y="638" width="1" height="71" fill="#c0c0c0"/>
<rect x="578" y="638" width="1" height="56" fill="#c0c0c0"/>
<rect x="586" y="638" width="1" height="43" fill="#c0c0c0"/>
<rect x="594" y="638" width="1" height="32" fill="#c0c0c0"/>
<rect x="602" y="638" width="1" height="24" fill="#c0c0c0"/>
<rect x="610" y="638" width="1" height="18" fill="#c0c0c0"/>
<rect x="618" y="638" width="1" height="12" fill="#c0c0c0"/>
<rect x="626" y="638" width="1" height="8" fill="#c0c0c0"/>
<rect x="634" y="638" width="1" height="3" fill="#c0c0c0"/>
<rect x="650" y="637" width="1" height="2" fill="#c0c0c0"/>
<rect x="658" y="636" width="1" height="3" fill="#c0c0c0"/>
<rect x="666" y="635" width="1" height="4" fill="#c0c0c0"/>
<rect x="674" y="634" width="1" height="5" fill="#c0c0c0"/>
<rect x="682" y="627" width="1" height="12" fill="#c0c0c0"/>
<rect x="690" y="621" width="1" height="18" fill="#c0c0c0"/>
<rect x="698" y="619" width="1" height="20" fill="#c0c0c0"/>
<rect x="706" y="618" width="1" height="21" fill="#c0c0c0"/>
<rect x="714" y="619" width="1" height="20" fill="#c0c0c0"/>
<rect x="722" y="624" width="1" height="15" fill="#c0c0c0"/>
<rect x="730" y="630" width="1" height="9" fill="#c0c0c0"/>
<rect x="738" y="634" width="1" height="5" fill="#c0c0c0"/>
<rect x="770" y="631" width="1" height="8" fill="#c0c0c0"/>
<rect x="778" y="625" width="1" height="14" fill="#c0c0c0"/>
<rect x="786" y="621" width="1" height="18" fill="#c0c0c0"/>
<rect x="794" y="618" width="1" height="21" fill="#c0c0c0"/>
<rect x="802" y="616" width="1" height="23" fill="#c0c0c0"/>
<rect x="810" y="615" width="1" height="24" fill="#c0c0c0"/>
<rect x="818" y="615" width="1" height="24" fill="#c0c0c0"/>
<rect x="826" y="615" width="1" height="24" fill="#c0c0c0"/>
<rect x="834" y="616" width="1" height="23" fill="#c0c0c0"/>
<rect x="842" y="614" width="1" height="25" fill="#c0c0c0"/>
<rect x="850" y="612" width="1" height="27" fill="#c0c0c0"/>
<rect x="858" y="609" width="1" height="30" fill="#c0c0c0"/>
<rect x="866" y="613" width="1" height="26" fill="#c0c0c0"/>
<rect x="874" y="618" width="1" height="21" fill="#c0c0c0"/>
<rect x="882" y="621" width="1" height="18" fill="#c0c0c0"/>
<rect x="890" y="625" width="1" height="14" fill="#c0c0c0"/>
<rect x="898" y="626" width="1" height="13" fill="#c0c0c0"/>
<rect x="906" y="627" width="1" height="12" fill="#c0c0c0"/>
<rect x="914" y="623" width="1" height="16" fill="#c0c0c0"/>
<rect x="922" y="622" width="1" height="17" fill="#c0c0c0"/>
<rect x="930" y="623" width="1" height="16" fill="#c0c0c0"/>
<rect x="938" y="623" width="1" height="16" fill="#c0c0c0"/>
<rect x="946" y="620" width="1" height="19" fill="#c0c0c0"/>
<rect x="954" y="618" width="1" height="21" fill="#c0c0c0"/>
<rect x="962" y="612" width="1" height="27" fill="#c0c0c0"/>
<rect x="970" y="605" width="1" height="34" fill="#c0c0c0"/>
<rect x="978" y="601" width="1" height="38" fill="#c0c0c0"/>
<rect x="986" y="598" width="1" height="41" fill="#c0c0c0"/>
<rect x="994" y="597" width="1" height="42" fill="#c0c0c0"/>
<rect x="1002" y="596" width="1" height="43" fill="#c0c0c0"/>
<rect x="1010" y="592" width="1" height="47" fill="#c0c0c0"/>
<rect x="1018" y="586" width="1" height="53" fill="#c0c0c0"/>
<rect x="1026" y="585" width="1" height="54" fill="#c0c0c0"/>
<rect x="1034" y="585" width="1" height="54" fill="#c0c0c0"/>
<rect x="1042" y="589" width="1" height="50" fill="#c0c0c0"/>
<rect x="1050" y="592" width="1" height="47" fill="#c0c0c0"/>
<rect x="1058" y="597" width="1" height="42" fill="#c0c0c0"/>
<rect x="1066" y="601" width="1" height="38" fill="#c0c0c0"/>
<rect x="1074" y="602" width="1" height="37" fill="#c0c0c0"/>
<rect x="1082" y="603" width="1" height="36" fill="#c0c0c0"/>
<rect x="1090" y="607" width="1" height="32" fill="#c0c0c0"/>
<rect x="1098" y="619" width="1" height="20" fill="#c0c0c0"/>
<rect x="1106" y="626" width="1" height="13" fill="#c0c0c0"/>
<rect x="1114" y="633" width="1" height="6" fill="#c0c0c0"/>
<rect x="1130" y="638" width="1" height="4" fill="#c0c0c0"/>
<rect x="1138" y="638" width="1" height="10" fill="#c0c0c0"/>
<rect x="1146" y="638" width="1" height="14" fill="#c0c0c0"/>
<rect x="1154" y="638" width="1" height="18" fill="#c0c0c0"/>
<rect x="1162" y="638" width="1" height="19" fill="#c0c0c0"/>
<rect x="1170" y="638" width="1" height="20" fill="#c0c0c0"/>
<rect x="1178" y="638" width="1" height="22" fill="#c0c0c0"/>
<rect x="1186" y="638" width="1" height="19" fill="#c0c0c0"/>
<rect x="1194" y="638" width="1" height="10" fill="#c0c0c0"/>
<rect x="1210" y="633" width="1" height="6" fill="#c0c0c0"/>
<rect x="1218" y="628" width="1" height="11" fill="#c0c0c0"/>
<rect x="1226" y="623" width="1" height="16" fill="#c0c0c0"/>
<rect x="1234" y="615" width="1" height="24" fill="#c0c0c0"/>
<rect x="1242" y="608" width="1" height="31" fill="#c0c0c0"/>
<rect x="1250" y="609" width="1" height="30" fill="#c0c0c0"/>
<rect x="1258" y="610" width="1" height="29" fill="#c0c0c0"/>
<rect x="1266" y="612" width="1" height="27" fill="#c0c0c0"/>
<rect x="1274" y="613" width="1" height="26" fill="#c0c0c0"/>
<rect x="1282" y="619" width="1" height="20" fill="#c0c0c0"/>
<rect x="1290" y="622" width="1" height="17" fill="#c0c0c0"/>
<rect x="1298" y="621" width="1" height="18" fill="#c0c0c0"/>
<rect x="1306" y="622" width="1" height="17" fill="#c0c0c0"/>
<rect x="1314" y="623" width="1" height="16" fill="#c0c0c0"/>
<rect x="1322" y="623" width="1" height="16" fill="#c0c0c0"/>
<rect x="1330" y="618" width="1" height="21" fill="#c0c0c0"/>
<rect x="1338" y="618" width="1" height="21" fill="#c0c0c0"/>
<rect x="1346" y="620" width="1" height="19" fill="#c0c0c0"/>
<rect x="1354" y="627" width="1" height="12" fill="#c0c0c0"/>
<rect x="1362" y="632" width="1" height="7" fill="#c0c0c0"/>
<rect x="1370" y="636" width="1" height="3" fill="#c0c0c0"/>
<rect x="1386" y="636" width="1" height="3" fill="#c0c0c0"/>
<rect x="1394" y="634" width="1" height="5" fill="#c0c0c0"/>
<rect x="1402" y="633" width="1" height="6" fill="#c0c0c0"/>
<rect x="1410" y="632" width="1" height="7" fill="#c0c0c0"/>
<rect x="1418" y="633" width="1" height="6" fill="#c0c0c0"/>
<rect x="1426" y="635" width="1" height="4" fill="#c0c0c0"/>
<rect x="1434" y="636" width="1" height="3" fill="#c0c0c0"/>
<rect x="1442" y="638" width="1" height="3" fill="#c0c0c0"/>
<rect x="1450" y="638" width="1" height="5" fill="#c0c0c0"/>
<rect x="1458" y="638" width="1" height="6" fill="#c0c0c0"/>
</g>
<path d="M1053 590h3v1h-3zM1059 590h3v1h-3zM1042 591h2v1h-2zM1047 591h3v1h-3zM1065 591h3v1h-3zM1071 591h3v1h-3zM1077 592h3v1h-3zM1035 593h3v1h-3zM1083 593h3v1h-3zM1030 595h2v1h-2zM1089 595h3v1h-3zM1024 598h2v1h-2zM1096 598h2v1h-2zM1017 601h2v1h-2zM1101 602h2v1h-2zM1012 603h2v1h-2zM1005 606h3v1h-3zM1108 606h2v1h-2zM1000 608h2v1h-2zM1113 609h2v1h-2zM993 611h2v1h-2zM988 612h2v1h-2zM868 613h2v1h-2zM873 613h3v1h-3zM1299 613h3v1h-3zM861 614h3v1h-3zM879 614h3v1h-3zM981 614h3v1h-3zM1287 614h3v1h-3zM1293 614h2v1h-2zM1305 614h3v1h-3zM855 615h3v1h-3zM885 615h3v1h-3zM891 615h2v1h-2zM1281 615h3v1h-3zM1311 615h3v1h-3zM849 616h3v1h-3zM897 616h3v1h-3zM975 616h3v1h-3zM1125 616h2v1h-2zM1275 616h2v1h-2zM1317 616h2v1h-2zM843 617h3v1h-3zM903 617h3v1h-3zM1323 617h2v1h-2zM837 618h2v1h-2zM969 618h2v1h-2zM1269 618h3v1h-3zM1329 618h3v1h-3zM831 619h3v1h-3zM910 619h2v1h-2zM964 619h2v1h-2zM1335 619h3v1h-3zM916 620h2v1h-2zM921 620h2v1h-2zM1132 620h2v1h-2zM1264 620h2v1h-2zM1341 620h3v1h-3zM825 621h2v1h-2zM927 621h3v1h-3zM957 621h3v1h-3zM1347 621h3v1h-3zM1353 621h3v1h-3zM933 622h3v1h-3zM939 622h3v1h-3zM945 622h3v1h-3zM951 622h3v1h-3zM1359 622h3v1h-3zM819 623h2v1h-2zM1258 623h2v1h-2zM1366 623h2v1h-2zM1372 624h2v1h-2zM729 625h3v1h-3zM735 625h3v1h-3zM741 625h3v1h-3zM747 625h2v1h-2zM813 625h3v1h-3zM1378 625h2v1h-2zM0 626h3v1h-3zM6 626h3v1h-3zM718 626h2v1h-2zM723 626h2v1h-2zM753 626h3v1h-3zM1252 626h2v1h-2zM1383 626h3v1h-3zM13 627h2v1h-2zM807 627h3v1h-3zM18 628h3v1h-3zM24 628h3v1h-3zM30 628h3v1h-3zM36 628h3v1h-3zM42 628h3v1h-3zM48 628h3v1h-3zM711 628h2v1h-2zM760 628h2v1h-2zM802 628h2v1h-2zM1390 628h2v1h-2zM54 629h3v1h-3zM706 629h2v1h-2zM765 629h2v1h-2zM1144 629h2v1h-2zM60 630h2v1h-2zM771 630h3v1h-3zM789 630h3v1h-3zM795 630h3v1h-3zM1395 630h3v1h-3zM700 631h2v1h-2zM777 631h3v1h-3zM783 631h3v1h-3zM1401 631h2v1h-2zM1407 632h2v1h-2zM67 633h2v1h-2zM1413 633h3v1h-3zM694 634h2v1h-2zM1419 634h3v1h-3zM72 635h3v1h-3zM1425 635h3v1h-3zM1431 635h2v1h-2zM1437 636h3v1h-3zM1443 636h3v1h-3zM79 637h2v1h-2zM687 637h3v1h-3zM1155 637h2v1h-2zM1449 637h3v1h-3zM84 638h2v1h-2zM1455 638h2v1h-2zM682 639h2v1h-2zM90 640h3v1h-3zM1234 640h2v1h-2zM676 641h2v1h-2zM1161 641h2v1h-2zM96 642h2v1h-2zM1228 643h2v1h-2zM669 644h2v1h-2zM102 645h2v1h-2zM367 645h2v1h-2zM372 646h3v1h-3zM1221 646h2v1h-2zM360 647h3v1h-3zM663 647h2v1h-2zM355 648h2v1h-2zM378 648h3v1h-3zM108 649h2v1h-2zM1174 649h2v1h-2zM1215 649h2v1h-2zM348 650h3v1h-3zM384 650h2v1h-2zM657 650h2v1h-2zM1179 651h3v1h-3zM1209 651h3v1h-3zM342 652h3v1h-3zM1203 652h3v1h-3zM114 653h2v1h-2zM391 653h2v1h-2zM652 653h2v1h-2zM1185 653h3v1h-3zM1191 653h3v1h-3zM1197 653h3v1h-3zM336 654h2v1h-2zM331 655h2v1h-2zM121 656h2v1h-2zM397 656h2v1h-2zM324 657h3v1h-3zM126 658h3v1h-3zM252 658h3v1h-3zM258 658h3v1h-3zM264 658h3v1h-3zM270 658h3v1h-3zM276 658h3v1h-3zM282 658h3v1h-3zM246 659h3v1h-3zM288 659h3v1h-3zM318 659h3v1h-3zM133 660h2v1h-2zM241 660h2v1h-2zM294 660h3v1h-3zM300 660h3v1h-3zM306 660h3v1h-3zM312 660h3v1h-3zM138 661h3v1h-3zM144 662h2v1h-2zM234 662h3v1h-3zM640 662h2v1h-2zM150 664h3v1h-3zM228 664h2v1h-2zM157 666h2v1h-2zM222 666h2v1h-2zM162 667h3v1h-3zM217 667h2v1h-2zM414 667h2v1h-2zM168 668h3v1h-3zM174 669h3v1h-3zM205 669h2v1h-2zM210 669h2v1h-2zM180 670h2v1h-2zM198 670h3v1h-3zM192 671h3v1h-3zM420 671h2v1h-2zM186 672h3v1h-3zM433 679h2v1h-2zM439 682h2v1h-2zM445 685h2v1h-2zM450 687h3v1h-3zM456 689h2v1h-2zM462 691h3v1h-3zM469 693h2v1h-2zM474 694h3v1h-3zM480 695h3v1h-3zM487 697h2v1h-2zM492 699h2v1h-2zM498 702h2v1h-2zM505 707h2v1h-2zM511 711h2v1h-2zM517 714h2v1h-2zM528 720h2v1h-2zM583 720h2v1h-2zM535 724h2v1h-2zM576 725h2v1h-2zM540 726h2v1h-2zM546 728h3v1h-3zM571 728h2v1h-2zM552 729h3v1h-3zM558 730h3v1h-3zM564 730h3v1h-3zM12 626h1v1h-1zM62 631h1v1h-1zM66 632h1v1h-1zM78 636h1v1h-1zM86 639h1v1h-1zM98 643h1v1h-1zM104 646h1v1h-1zM110 650h1v1h-1zM116 654h1v1h-1zM120 655h1v1h-1zM132 659h1v1h-1zM146 663h1v1h-1zM156 665h1v1h-1zM182 671h1v1h-1zM204 670h1v1h-1zM212 668h1v1h-1zM216 668h1v1h-1zM224 665h1v1h-1zM230 663h1v1h-1zM240 661h1v1h-1zM330 656h1v1h-1zM338 653h1v1h-1zM354 649h1v1h-1zM366 646h1v1h-1zM386 651h1v1h-1zM390 652h1v1h-1zM396 655h1v1h-1zM402 658h1v1h-1zM403 659h1v1h-1zM404 660h1v1h-1zM408 662h1v1h-1zM409 663h1v1h-1zM410 664h1v1h-1zM416 668h1v1h-1zM422 672h1v1h-1zM426 674h1v1h-1zM427 675h1v1h-1zM428 676h1v1h-1zM432 678h1v1h-1zM438 681h1v1h-1zM444 684h1v1h-1zM458 690h1v1h-1zM468 692h1v1h-1zM486 696h1v1h-1zM494 700h1v1h-1zM500 703h1v1h-1zM504 706h1v1h-1zM510 710h1v1h-1zM516 713h1v1h-1zM522 716h1v1h-1zM523 717h1v1h-1zM524 718h1v1h-1zM530 721h1v1h-1zM534 723h1v1h-1zM542 727h1v1h-1zM570 729h1v1h-1zM578 724h1v1h-1zM582 721h1v1h-1zM588 716h1v1h-1zM589 715h1v1h-1zM590 714h1v1h-1zM594 711h1v1h-1zM595 710h1v1h-1zM596 709h1v1h-1zM600 705h1v1h-1zM601 704h1v1h-1zM602 703h1v1h-1zM606 699h1v1h-1zM607 698h1v1h-1zM608 697h1v1h-1zM611 693h1v1h-1zM612 692h1v1h-1zM613 691h1v1h-1zM617 686h1v2h-1zM618 685h1v1h-1zM622 681h1v1h-1zM623 680h1v1h-1zM624 679h1v1h-1zM627 675h1v1h-1zM628 674h1v1h-1zM629 673h1v1h-1zM633 669h1v1h-1zM634 668h1v1h-1zM635 667h1v1h-1zM639 663h1v1h-1zM645 658h1v1h-1zM646 657h1v1h-1zM647 656h1v1h-1zM651 654h1v1h-1zM659 649h1v1h-1zM665 646h1v1h-1zM671 643h1v1h-1zM675 642h1v1h-1zM681 640h1v1h-1zM693 635h1v1h-1zM699 632h1v1h-1zM705 630h1v1h-1zM713 627h1v1h-1zM717 627h1v1h-1zM725 625h1v1h-1zM749 626h1v1h-1zM759 627h1v1h-1zM767 630h1v1h-1zM801 629h1v1h-1zM821 622h1v1h-1zM827 620h1v1h-1zM839 617h1v1h-1zM867 614h1v1h-1zM893 616h1v1h-1zM909 618h1v1h-1zM915 619h1v1h-1zM923 621h1v1h-1zM963 620h1v1h-1zM971 617h1v1h-1zM987 613h1v1h-1zM995 610h1v1h-1zM999 609h1v1h-1zM1011 604h1v1h-1zM1019 600h1v1h-1zM1023 599h1v1h-1zM1029 596h1v1h-1zM1041 592h1v1h-1zM1095 597h1v1h-1zM1103 603h1v1h-1zM1107 605h1v1h-1zM1115 610h1v1h-1zM1119 612h1v1h-1zM1120 613h1v1h-1zM1121 614h1v1h-1zM1127 617h1v1h-1zM1131 619h1v1h-1zM1137 623h1v1h-1zM1138 624h1v1h-1zM1139 625h1v1h-1zM1143 628h1v1h-1zM1149 632h1v1h-1zM1150 633h1v1h-1zM1151 634h1v1h-1zM1157 638h1v1h-1zM1163 642h1v1h-1zM1167 644h1v1h-1zM1168 645h1v1h-1zM1169 646h1v1h-1zM1173 648h1v1h-1zM1217 648h1v1h-1zM1223 645h1v1h-1zM1227 644h1v1h-1zM1233 641h1v1h-1zM1239 637h1v1h-1zM1240 636h1v1h-1zM1241 635h1v1h-1zM1245 632h1v1h-1zM1246 631h1v1h-1zM1247 630h1v1h-1zM1251 627h1v1h-1zM1257 624h1v1h-1zM1263 621h1v1h-1zM1277 615h1v1h-1zM1295 613h1v1h-1zM1319 617h1v1h-1zM1325 618h1v1h-1zM1365 622h1v1h-1zM1371 623h1v1h-1zM1377 624h1v1h-1zM1389 627h1v1h-1zM1403 632h1v1h-1zM1409 633h1v1h-1zM1433 636h1v1h-1zM1457 639h1v1h-1z" fill="#ff0000" shape-rendering="crispEdges"/>
<line x1="1355.0" y1="631.5" x2="1455.6" y2="644.1" stroke="#ff0000" stroke-width="3" stroke-linecap="butt" shape-rendering="crispEdges"/>
<polygon points="1465.5,645.3 1452.9,649.0 1454.2,638.7" fill="#ff0000" shape-rendering="crispEdges"/>
<text x="-2" y="588" font-size="9.6" fill="#000" textLength="154.3" lengthAdjust="spacingAndGlyphs" stroke="#000" stroke-width="0.1">MACD(12,26,9) -0.000653 -0.000017</text>
<line x1="1" y1="783.5" x2="1652" y2="783.5" stroke="#c0c0c0" stroke-width="1" stroke-dasharray="3,3" shape-rendering="crispEdges"/>
<line x1="1" y1="834.5" x2="1652" y2="834.5" stroke="#c0c0c0" stroke-width="1" stroke-dasharray="3,3" shape-rendering="crispEdges"/>
<line x1="1" y1="895.5" x2="1652" y2="895.5" stroke="#c0c0c0" stroke-width="1" stroke-dasharray="3,3" shape-rendering="crispEdges"/>
<path d="M1016 791h2v1h-2zM1013 793h2v1h-2zM1011 794h2v1h-2zM970 799h13v1h-13zM968 800h2v1h-2zM983 800h4v1h-4zM966 801h2v1h-2zM964 802h2v1h-2zM962 803h2v1h-2zM1241 803h2v1h-2zM1026 804h2v1h-2zM1239 804h2v1h-2zM857 805h2v1h-2zM1000 805h2v1h-2zM1028 805h2v1h-2zM1236 805h3v1h-3zM853 806h4v1h-4zM998 806h2v1h-2zM1030 806h2v1h-2zM1234 806h2v1h-2zM689 807h2v1h-2zM850 807h3v1h-3zM996 807h2v1h-2zM1032 807h2v1h-2zM685 808h4v1h-4zM848 808h2v1h-2zM994 808h2v1h-2zM682 809h3v1h-3zM845 810h2v1h-2zM770 811h10v1h-10zM843 811h2v1h-2zM1200 811h2v1h-2zM780 812h2v1h-2zM793 812h6v1h-6zM1198 812h2v1h-2zM782 813h2v1h-2zM791 813h2v1h-2zM799 813h4v1h-4zM1196 813h2v1h-2zM784 814h2v1h-2zM788 814h3v1h-3zM803 814h2v1h-2zM1194 814h2v1h-2zM698 815h2v1h-2zM786 815h2v1h-2zM805 815h2v1h-2zM1049 815h2v1h-2zM1224 815h2v1h-2zM700 816h2v1h-2zM946 816h9v1h-9zM1047 816h2v1h-2zM1222 816h2v1h-2zM702 817h2v1h-2zM808 817h2v1h-2zM1044 817h3v1h-3zM1220 817h2v1h-2zM704 818h2v1h-2zM810 818h3v1h-3zM1042 818h2v1h-2zM1080 818h2v1h-2zM1210 818h10v1h-10zM813 819h4v1h-4zM823 819h8v1h-8zM1078 819h2v1h-2zM817 820h6v1h-6zM831 820h4v1h-4zM1076 820h2v1h-2zM634 821h2v1h-2zM1073 821h3v1h-3zM9 822h4v1h-4zM586 822h3v1h-3zM636 822h2v1h-2zM1069 822h4v1h-4zM5 823h4v1h-4zM13 823h4v1h-4zM584 823h2v1h-2zM589 823h4v1h-4zM638 823h2v1h-2zM1065 823h4v1h-4zM1250 823h5v1h-5zM-1 824h6v1h-6zM17 824h3v1h-3zM298 824h2v1h-2zM582 824h2v1h-2zM593 824h3v1h-3zM640 824h2v1h-2zM935 824h4v1h-4zM1063 824h2v1h-2zM1255 824h5v1h-5zM1338 824h2v1h-2zM-6 825h5v1h-5zM20 825h3v1h-3zM300 825h3v1h-3zM580 825h2v1h-2zM596 825h3v1h-3zM617 825h3v1h-3zM642 825h2v1h-2zM927 825h8v1h-8zM1060 825h3v1h-3zM1260 825h3v1h-3zM1320 825h2v1h-2zM1340 825h2v1h-2zM1407 825h4v1h-4zM23 826h2v1h-2zM225 826h2v1h-2zM295 826h2v1h-2zM303 826h2v1h-2zM578 826h2v1h-2zM599 826h2v1h-2zM613 826h4v1h-4zM620 826h2v1h-2zM644 826h2v1h-2zM922 826h5v1h-5zM1058 826h2v1h-2zM1263 826h2v1h-2zM1271 826h4v1h-4zM1298 826h2v1h-2zM1318 826h2v1h-2zM1342 826h2v1h-2zM1402 826h5v1h-5zM25 827h4v1h-4zM221 827h4v1h-4zM305 827h2v1h-2zM601 827h12v1h-12zM622 827h2v1h-2zM646 827h2v1h-2zM672 827h2v1h-2zM1265 827h6v1h-6zM1300 827h2v1h-2zM1316 827h2v1h-2zM1344 827h2v1h-2zM1400 827h2v1h-2zM29 828h4v1h-4zM218 828h3v1h-3zM307 828h2v1h-2zM327 828h2v1h-2zM624 828h2v1h-2zM648 828h2v1h-2zM905 828h2v1h-2zM1302 828h2v1h-2zM1313 828h3v1h-3zM1398 828h2v1h-2zM1413 828h2v1h-2zM33 829h4v1h-4zM216 829h2v1h-2zM291 829h2v1h-2zM650 829h11v1h-11zM669 829h2v1h-2zM901 829h4v1h-4zM1304 829h2v1h-2zM1309 829h4v1h-4zM1396 829h2v1h-2zM37 830h4v1h-4zM201 830h3v1h-3zM661 830h4v1h-4zM667 830h2v1h-2zM898 830h3v1h-3zM1293 830h2v1h-2zM1306 830h3v1h-3zM1394 830h2v1h-2zM41 831h2v1h-2zM199 831h2v1h-2zM204 831h3v1h-3zM213 831h2v1h-2zM311 831h2v1h-2zM323 831h2v1h-2zM665 831h2v1h-2zM1392 831h2v1h-2zM196 832h3v1h-3zM207 832h2v1h-2zM211 832h2v1h-2zM319 832h4v1h-4zM761 832h2v1h-2zM879 832h4v1h-4zM1390 832h2v1h-2zM1433 832h2v1h-2zM194 833h2v1h-2zM209 833h2v1h-2zM314 833h5v1h-5zM759 833h2v1h-2zM873 833h6v1h-6zM1388 833h2v1h-2zM1419 833h2v1h-2zM756 834h3v1h-3zM869 834h4v1h-4zM1288 834h2v1h-2zM1383 834h5v1h-5zM754 835h2v1h-2zM866 835h3v1h-3zM1378 835h5v1h-5zM1429 835h2v1h-2zM1285 836h2v1h-2zM1423 836h2v1h-2zM339 837h2v1h-2zM1283 837h2v1h-2zM341 838h2v1h-2zM344 840h2v1h-2zM351 840h4v1h-4zM346 841h5v1h-5zM725 842h2v1h-2zM1106 844h2v1h-2zM1108 845h2v1h-2zM730 846h13v1h-13zM1110 846h2v1h-2zM1354 846h13v1h-13zM743 847h4v1h-4zM1112 847h2v1h-2zM1162 847h2v1h-2zM1367 847h4v1h-4zM1114 848h5v1h-5zM1164 848h2v1h-2zM1119 849h12v1h-12zM1166 849h2v1h-2zM1450 849h9v1h-9zM1131 850h2v1h-2zM1168 850h2v1h-2zM1448 850h2v1h-2zM1170 851h5v1h-5zM1446 851h2v1h-2zM1098 852h2v1h-2zM1145 852h3v1h-3zM1175 852h4v1h-4zM1444 852h2v1h-2zM57 853h3v1h-3zM85 853h2v1h-2zM426 853h2v1h-2zM1135 853h2v1h-2zM1143 853h2v1h-2zM1148 853h3v1h-3zM1442 853h2v1h-2zM53 854h4v1h-4zM60 854h3v1h-3zM1140 854h3v1h-3zM1151 854h2v1h-2zM50 855h3v1h-3zM63 855h2v1h-2zM71 855h8v1h-8zM365 855h2v1h-2zM443 855h2v1h-2zM1138 855h2v1h-2zM1153 855h2v1h-2zM65 856h6v1h-6zM79 856h4v1h-4zM277 856h2v1h-2zM439 856h2v1h-2zM445 856h2v1h-2zM265 857h4v1h-4zM128 858h2v1h-2zM261 858h4v1h-4zM269 858h4v1h-4zM448 858h2v1h-2zM126 859h2v1h-2zM257 859h4v1h-4zM273 859h2v1h-2zM370 859h2v1h-2zM435 859h2v1h-2zM98 860h3v1h-3zM124 860h2v1h-2zM255 860h2v1h-2zM372 860h3v1h-3zM451 860h2v1h-2zM554 860h9v1h-9zM101 861h4v1h-4zM119 861h5v1h-5zM146 861h5v1h-5zM252 861h3v1h-3zM375 861h2v1h-2zM105 862h14v1h-14zM151 862h13v1h-13zM250 862h2v1h-2zM377 862h2v1h-2zM164 863h3v1h-3zM455 863h2v1h-2zM167 864h2v1h-2zM169 865h2v1h-2zM171 866h2v1h-2zM410 866h2v1h-2zM459 866h2v1h-2zM173 867h2v1h-2zM412 867h2v1h-2zM414 868h2v1h-2zM176 869h2v1h-2zM416 869h3v1h-3zM463 869h2v1h-2zM466 871h2v1h-2zM468 872h2v1h-2zM470 873h2v1h-2zM472 874h2v1h-2zM399 875h4v1h-4zM474 875h3v1h-3zM391 876h8v1h-8zM477 876h4v1h-4zM386 877h5v1h-5zM481 877h2v1h-2zM545 877h2v1h-2zM483 878h2v1h-2zM530 878h5v1h-5zM541 878h4v1h-4zM535 879h6v1h-6zM487 881h2v1h-2zM490 883h3v1h-3zM493 884h4v1h-4zM497 885h12v1h-12zM509 886h4v1h-4zM513 887h6v1h-6zM519 888h4v1h-4zM42 832h1v1h-1zM43 833h1v3h-1zM44 836h1v3h-1zM45 839h1v3h-1zM46 842h1v3h-1zM47 845h1v3h-1zM48 848h1v3h-1zM49 851h1v3h-1zM50 854h1v1h-1zM83 855h1v1h-1zM84 854h1v1h-1zM87 852h1v1h-1zM88 851h1v1h-1zM89 850h1v1h-1zM90 849h1v1h-1zM91 850h1v2h-1zM92 852h1v1h-1zM93 853h1v1h-1zM94 854h1v2h-1zM95 856h1v1h-1zM96 857h1v1h-1zM97 858h1v2h-1zM130 857h1v1h-1zM131 856h1v1h-1zM132 855h1v1h-1zM133 854h1v1h-1zM134 853h1v1h-1zM135 852h1v1h-1zM136 851h1v1h-1zM137 850h1v1h-1zM138 849h1v1h-1zM139 850h1v2h-1zM140 852h1v1h-1zM141 853h1v2h-1zM142 855h1v1h-1zM143 856h1v2h-1zM144 858h1v1h-1zM145 859h1v2h-1zM175 868h1v1h-1zM178 870h1v1h-1zM179 868h1v2h-1zM180 867h1v1h-1zM181 865h1v2h-1zM182 864h1v1h-1zM183 862h1v2h-1zM184 861h1v1h-1zM185 859h1v2h-1zM186 857h1v2h-1zM187 854h1v3h-1zM188 851h1v3h-1zM189 848h1v3h-1zM190 844h1v4h-1zM191 841h1v3h-1zM192 838h1v3h-1zM193 835h1v3h-1zM194 834h1v1h-1zM215 830h1v1h-1zM226 827h1v1h-1zM227 828h1v2h-1zM228 830h1v2h-1zM229 832h1v2h-1zM230 834h1v3h-1zM231 837h1v2h-1zM232 839h1v2h-1zM233 841h1v2h-1zM234 843h1v2h-1zM235 845h1v1h-1zM236 846h1v1h-1zM237 847h1v1h-1zM238 848h1v1h-1zM239 849h1v1h-1zM240 850h1v1h-1zM241 851h1v1h-1zM242 852h1v1h-1zM243 853h1v1h-1zM244 854h1v2h-1zM245 856h1v1h-1zM246 857h1v1h-1zM247 858h1v1h-1zM248 859h1v2h-1zM249 861h1v1h-1zM275 858h1v1h-1zM276 857h1v1h-1zM279 855h1v1h-1zM280 854h1v1h-1zM281 853h1v1h-1zM282 851h1v2h-1zM283 848h1v3h-1zM284 846h1v2h-1zM285 843h1v3h-1zM286 840h1v3h-1zM287 837h1v3h-1zM288 835h1v2h-1zM289 832h1v3h-1zM290 830h1v2h-1zM293 828h1v1h-1zM294 827h1v1h-1zM297 825h1v1h-1zM309 829h1v1h-1zM310 830h1v1h-1zM313 832h1v1h-1zM325 830h1v1h-1zM326 829h1v1h-1zM329 827h1v1h-1zM330 826h1v1h-1zM331 827h1v1h-1zM332 828h1v2h-1zM333 830h1v1h-1zM334 831h1v1h-1zM335 832h1v1h-1zM336 833h1v2h-1zM337 835h1v1h-1zM338 836h1v1h-1zM343 839h1v1h-1zM355 841h1v2h-1zM356 843h1v1h-1zM357 844h1v2h-1zM358 846h1v1h-1zM359 847h1v2h-1zM360 849h1v1h-1zM361 850h1v2h-1zM362 852h1v1h-1zM363 853h1v1h-1zM364 854h1v1h-1zM367 856h1v1h-1zM368 857h1v1h-1zM369 858h1v1h-1zM379 863h1v2h-1zM380 865h1v2h-1zM381 867h1v2h-1zM382 869h1v2h-1zM383 871h1v2h-1zM384 873h1v2h-1zM385 875h1v2h-1zM403 874h1v1h-1zM404 873h1v1h-1zM405 872h1v1h-1zM406 870h1v2h-1zM407 869h1v1h-1zM408 868h1v1h-1zM409 867h1v1h-1zM418 870h1v1h-1zM419 867h1v2h-1zM420 865h1v2h-1zM421 863h1v2h-1zM422 860h1v3h-1zM423 858h1v2h-1zM424 856h1v2h-1zM425 854h1v2h-1zM426 852h1v1h-1zM428 854h1v1h-1zM429 855h1v1h-1zM430 856h1v1h-1zM431 857h1v1h-1zM432 858h1v1h-1zM433 859h1v1h-1zM434 860h1v1h-1zM437 858h1v1h-1zM438 857h1v1h-1zM441 855h1v1h-1zM442 854h1v1h-1zM447 857h1v1h-1zM450 859h1v1h-1zM453 861h1v1h-1zM454 862h1v1h-1zM457 864h1v1h-1zM458 865h1v1h-1zM461 867h1v1h-1zM462 868h1v1h-1zM465 870h1v1h-1zM485 879h1v1h-1zM486 880h1v1h-1zM489 882h1v1h-1zM523 887h1v1h-1zM524 885h1v2h-1zM525 884h1v1h-1zM526 883h1v1h-1zM527 882h1v1h-1zM528 880h1v2h-1zM529 879h1v1h-1zM546 876h1v1h-1zM547 874h1v2h-1zM548 872h1v2h-1zM549 870h1v2h-1zM550 868h1v2h-1zM551 866h1v2h-1zM552 864h1v2h-1zM553 862h1v2h-1zM554 861h1v1h-1zM562 859h1v1h-1zM563 857h1v2h-1zM564 855h1v2h-1zM565 853h1v2h-1zM566 850h1v3h-1zM567 848h1v2h-1zM568 846h1v2h-1zM569 844h1v2h-1zM570 841h1v3h-1zM571 839h1v2h-1zM572 837h1v2h-1zM573 835h1v2h-1zM574 833h1v2h-1zM575 831h1v2h-1zM576 829h1v2h-1zM577 827h1v2h-1zM626 829h1v1h-1zM627 828h1v1h-1zM628 827h1v1h-1zM629 826h1v1h-1zM630 825h1v1h-1zM631 824h1v1h-1zM632 823h1v1h-1zM633 822h1v1h-1zM671 828h1v1h-1zM674 825h1v2h-1zM675 823h1v2h-1zM676 821h1v2h-1zM677 819h1v2h-1zM678 817h1v2h-1zM679 815h1v2h-1zM680 813h1v2h-1zM681 811h1v2h-1zM682 810h1v1h-1zM691 808h1v1h-1zM692 809h1v1h-1zM693 810h1v1h-1zM694 811h1v1h-1zM695 812h1v1h-1zM696 813h1v1h-1zM697 814h1v1h-1zM706 819h1v1h-1zM707 820h1v1h-1zM708 821h1v1h-1zM709 822h1v1h-1zM710 823h1v2h-1zM711 825h1v1h-1zM712 826h1v1h-1zM713 827h1v1h-1zM714 828h1v1h-1zM715 829h1v2h-1zM716 831h1v1h-1zM717 832h1v1h-1zM718 833h1v2h-1zM719 835h1v1h-1zM720 836h1v1h-1zM721 837h1v2h-1zM722 839h1v1h-1zM723 840h1v1h-1zM724 841h1v1h-1zM727 843h1v1h-1zM728 844h1v1h-1zM729 845h1v1h-1zM747 845h1v2h-1zM748 844h1v1h-1zM749 842h1v2h-1zM750 841h1v1h-1zM751 839h1v2h-1zM752 838h1v1h-1zM753 836h1v2h-1zM762 831h1v1h-1zM763 829h1v2h-1zM764 826h1v3h-1zM765 823h1v3h-1zM766 821h1v2h-1zM767 818h1v3h-1zM768 815h1v3h-1zM769 813h1v2h-1zM770 812h1v1h-1zM807 816h1v1h-1zM835 819h1v1h-1zM836 818h1v1h-1zM837 817h1v1h-1zM838 816h1v1h-1zM839 815h1v1h-1zM840 814h1v1h-1zM841 813h1v1h-1zM842 812h1v1h-1zM847 809h1v1h-1zM858 806h1v1h-1zM859 807h1v4h-1zM860 811h1v4h-1zM861 815h1v4h-1zM862 819h1v3h-1zM863 822h1v4h-1zM864 826h1v4h-1zM865 830h1v4h-1zM866 834h1v1h-1zM883 833h1v1h-1zM884 834h1v1h-1zM885 835h1v1h-1zM886 836h1v2h-1zM887 838h1v1h-1zM888 839h1v1h-1zM889 840h1v1h-1zM890 841h1v1h-1zM891 839h1v2h-1zM892 838h1v1h-1zM893 837h1v1h-1zM894 835h1v2h-1zM895 834h1v1h-1zM896 833h1v1h-1zM897 831h1v2h-1zM907 826h1v2h-1zM908 824h1v2h-1zM909 822h1v2h-1zM910 821h1v1h-1zM911 819h1v2h-1zM912 817h1v2h-1zM913 815h1v2h-1zM914 814h1v1h-1zM915 815h1v2h-1zM916 817h1v1h-1zM917 818h1v2h-1zM918 820h1v1h-1zM919 821h1v2h-1zM920 823h1v1h-1zM921 824h1v2h-1zM939 823h1v1h-1zM940 822h1v1h-1zM941 821h1v1h-1zM942 820h1v1h-1zM943 819h1v1h-1zM944 818h1v1h-1zM945 817h1v1h-1zM955 814h1v2h-1zM956 812h1v2h-1zM957 811h1v1h-1zM958 809h1v2h-1zM959 808h1v1h-1zM960 806h1v2h-1zM961 804h1v2h-1zM987 801h1v1h-1zM988 802h1v1h-1zM989 803h1v1h-1zM990 804h1v1h-1zM991 805h1v1h-1zM992 806h1v1h-1zM993 807h1v1h-1zM1002 804h1v1h-1zM1003 803h1v1h-1zM1004 802h1v1h-1zM1005 801h1v1h-1zM1006 799h1v2h-1zM1007 798h1v1h-1zM1008 797h1v1h-1zM1009 796h1v1h-1zM1010 795h1v1h-1zM1015 792h1v1h-1zM1018 790h1v1h-1zM1019 791h1v2h-1zM1020 793h1v2h-1zM1021 795h1v2h-1zM1022 797h1v1h-1zM1023 798h1v2h-1zM1024 800h1v2h-1zM1025 802h1v2h-1zM1034 808h1v1h-1zM1035 809h1v1h-1zM1036 810h1v2h-1zM1037 812h1v1h-1zM1038 813h1v1h-1zM1039 814h1v1h-1zM1040 815h1v2h-1zM1041 817h1v1h-1zM1051 816h1v2h-1zM1052 818h1v1h-1zM1053 819h1v1h-1zM1054 820h1v2h-1zM1055 822h1v1h-1zM1056 823h1v1h-1zM1057 824h1v2h-1zM1082 817h1v1h-1zM1083 818h1v1h-1zM1084 819h1v2h-1zM1085 821h1v1h-1zM1086 822h1v1h-1zM1087 823h1v1h-1zM1088 824h1v2h-1zM1089 826h1v1h-1zM1090 827h1v2h-1zM1091 829h1v3h-1zM1092 832h1v4h-1zM1093 836h1v3h-1zM1094 839h1v3h-1zM1095 842h1v3h-1zM1096 845h1v4h-1zM1097 849h1v3h-1zM1098 853h1v1h-1zM1100 851h1v1h-1zM1101 850h1v1h-1zM1102 848h1v2h-1zM1103 847h1v1h-1zM1104 846h1v1h-1zM1105 845h1v1h-1zM1133 851h1v1h-1zM1134 852h1v1h-1zM1137 854h1v1h-1zM1155 854h1v1h-1zM1156 853h1v1h-1zM1157 852h1v1h-1zM1158 851h1v1h-1zM1159 850h1v1h-1zM1160 849h1v1h-1zM1161 848h1v1h-1zM1178 851h1v1h-1zM1179 849h1v2h-1zM1180 847h1v2h-1zM1181 845h1v2h-1zM1182 843h1v2h-1zM1183 841h1v2h-1zM1184 839h1v2h-1zM1185 837h1v2h-1zM1186 834h1v3h-1zM1187 832h1v2h-1zM1188 829h1v3h-1zM1189 826h1v3h-1zM1190 824h1v2h-1zM1191 821h1v3h-1zM1192 818h1v3h-1zM1193 816h1v2h-1zM1194 815h1v1h-1zM1202 810h1v1h-1zM1203 811h1v1h-1zM1204 812h1v1h-1zM1205 813h1v1h-1zM1206 814h1v1h-1zM1207 815h1v1h-1zM1208 816h1v1h-1zM1209 817h1v1h-1zM1226 814h1v1h-1zM1227 813h1v1h-1zM1228 812h1v1h-1zM1229 811h1v1h-1zM1230 810h1v1h-1zM1231 809h1v1h-1zM1232 808h1v1h-1zM1233 807h1v1h-1zM1242 804h1v1h-1zM1243 805h1v2h-1zM1244 807h1v3h-1zM1245 810h1v2h-1zM1246 812h1v3h-1zM1247 815h1v2h-1zM1248 817h1v3h-1zM1249 820h1v2h-1zM1250 822h1v1h-1zM1275 827h1v2h-1zM1276 829h1v1h-1zM1277 830h1v2h-1zM1278 832h1v1h-1zM1279 833h1v2h-1zM1280 835h1v1h-1zM1281 836h1v2h-1zM1282 838h1v1h-1zM1287 835h1v1h-1zM1290 833h1v1h-1zM1291 832h1v1h-1zM1292 831h1v1h-1zM1295 829h1v1h-1zM1296 828h1v1h-1zM1297 827h1v1h-1zM1322 824h1v1h-1zM1323 822h1v2h-1zM1324 821h1v1h-1zM1325 820h1v1h-1zM1326 818h1v2h-1zM1327 817h1v1h-1zM1328 816h1v1h-1zM1329 814h1v2h-1zM1330 813h1v1h-1zM1331 814h1v2h-1zM1332 816h1v1h-1zM1333 817h1v1h-1zM1334 818h1v2h-1zM1335 820h1v1h-1zM1336 821h1v1h-1zM1337 822h1v2h-1zM1346 828h1v2h-1zM1347 830h1v2h-1zM1348 832h1v2h-1zM1349 834h1v2h-1zM1350 836h1v3h-1zM1351 839h1v2h-1zM1352 841h1v2h-1zM1353 843h1v2h-1zM1354 845h1v1h-1zM1371 845h1v2h-1zM1372 844h1v1h-1zM1373 842h1v2h-1zM1374 841h1v1h-1zM1375 839h1v2h-1zM1376 838h1v1h-1zM1377 836h1v2h-1zM1411 826h1v1h-1zM1412 827h1v1h-1zM1415 829h1v1h-1zM1416 830h1v1h-1zM1417 831h1v1h-1zM1418 832h1v1h-1zM1421 834h1v1h-1zM1422 835h1v1h-1zM1425 837h1v1h-1zM1426 838h1v1h-1zM1427 837h1v1h-1zM1428 836h1v1h-1zM1431 834h1v1h-1zM1432 833h1v1h-1zM1434 831h1v1h-1zM1435 833h1v3h-1zM1436 836h1v2h-1zM1437 838h1v3h-1zM1438 841h1v3h-1zM1439 844h1v3h-1zM1440 847h1v2h-1zM1441 849h1v3h-1zM1442 852h1v1h-1z" fill="#1e90ff" shape-rendering="crispEdges"/>
<line x1="1352.5" y1="834.3" x2="1455.8" y2="841.0" stroke="#ff0000" stroke-width="3" stroke-linecap="butt" shape-rendering="crispEdges"/>
<polygon points="1465.8,841.7 1453.5,846.1 1454.2,835.7" fill="#ff0000" shape-rendering="crispEdges"/>
<text x="-2" y="760.2" font-size="9.6" fill="#000" textLength="68" lengthAdjust="spacingAndGlyphs" stroke="#000" stroke-width="0.1">RSI(14) 41.7852</text>
<g shape-rendering="crispEdges">
<rect x="0" y="20" width="1653" height="1" fill="#000"/>
<rect x="0" y="573" width="1653" height="1" fill="#000"/>
<rect x="0" y="575" width="1653" height="1" fill="#000"/>
<rect x="0" y="745" width="1653" height="1" fill="#000"/>
<rect x="0" y="747" width="1653" height="1" fill="#000"/>
<rect x="0" y="921" width="1653" height="1" fill="#000"/>
<rect x="1652" y="20" width="1" height="902" fill="#000"/>
<rect x="1653" y="42" width="2" height="1" fill="#000"/>
<rect x="1653" y="75" width="2" height="1" fill="#000"/>
<rect x="1653" y="108" width="2" height="1" fill="#000"/>
<rect x="1653" y="141" width="2" height="1" fill="#000"/>
<rect x="1653" y="174" width="2" height="1" fill="#000"/>
<rect x="1653" y="207" width="2" height="1" fill="#000"/>
<rect x="1653" y="240" width="2" height="1" fill="#000"/>
<rect x="1653" y="273" width="2" height="1" fill="#000"/>
<rect x="1653" y="306" width="2" height="1" fill="#000"/>
<rect x="1653" y="339" width="2" height="1" fill="#000"/>
<rect x="1653" y="372" width="2" height="1" fill="#000"/>
<rect x="1653" y="405" width="2" height="1" fill="#000"/>
<rect x="1653" y="438" width="2" height="1" fill="#000"/>
<rect x="1653" y="471" width="2" height="1" fill="#000"/>
<rect x="1653" y="504" width="2" height="1" fill="#000"/>
<rect x="1653" y="537" width="2" height="1" fill="#000"/>
<rect x="1653" y="570" width="2" height="1" fill="#000"/>
<rect x="1653" y="577" width="2" height="1" fill="#000"/>
<rect x="1653" y="638" width="2" height="1" fill="#000"/>
<rect x="1653" y="744" width="2" height="1" fill="#000"/>
<rect x="1653" y="749" width="2" height="1" fill="#000"/>
<rect x="1653" y="783" width="2" height="1" fill="#000"/>
<rect x="1653" y="834" width="2" height="1" fill="#000"/>
<rect x="1653" y="895" width="2" height="1" fill="#000"/>
<rect x="1653" y="920" width="2" height="1" fill="#000"/>
<rect x="58" y="922" width="1" height="3" fill="#000"/>
<rect x="122" y="922" width="1" height="3" fill="#000"/>
<rect x="186" y="922" width="1" height="3" fill="#000"/>
<rect x="250" y="922" width="1" height="3" fill="#000"/>
<rect x="314" y="922" width="1" height="3" fill="#000"/>
<rect x="378" y="922" width="1" height="3" fill="#000"/>
<rect x="442" y="922" width="1" height="3" fill="#000"/>
<rect x="506" y="922" width="1" height="3" fill="#000"/>
<rect x="570" y="922" width="1" height="3" fill="#000"/>
<rect x="634" y="922" width="1" height="3" fill="#000"/>
<rect x="698" y="922" width="1" height="3" fill="#000"/>
<rect x="762" y="922" width="1" height="3" fill="#000"/>
<rect x="826" y="922" width="1" height="3" fill="#000"/>
<rect x="890" y="922" width="1" height="3" fill="#000"/>
<rect x="954" y="922" width="1" height="3" fill="#000"/>
<rect x="1018" y="922" width="1" height="3" fill="#000"/>
<rect x="1082" y="922" width="1" height="3" fill="#000"/>
<rect x="1146" y="922" width="1" height="3" fill="#000"/>
<rect x="1210" y="922" width="1" height="3" fill="#000"/>
<rect x="1274" y="922" width="1" height="3" fill="#000"/>
<rect x="1338" y="922" width="1" height="3" fill="#000"/>
<rect x="1402" y="922" width="1" height="3" fill="#000"/>
</g>
<text x="1658.5" y="45.9" font-size="9.5" fill="#000" textLength="32" lengthAdjust="spacingAndGlyphs" stroke="#000" stroke-width="0.15">1.39520</text>
<text x="1658.5" y="78.9" font-size="9.5" fill="#000" textLength="32" lengthAdjust="spacingAndGlyphs" stroke="#000" stroke-width="0.15">1.39295</text>
<text x="1658.5" y="111.9" font-size="9.5" fill="#000" textLength="32" lengthAdjust="spacingAndGlyphs" stroke="#000" stroke-width="0.15">1.39070</text>
<text x="1658.5" y="144.9" font-size="9.5" fill="#000" textLength="32" lengthAdjust="spacingAndGlyphs" stroke="#000" stroke-width="0.15">1.38850</text>
<text x="1658.5" y="177.9" font-size="9.5" fill="#000" textLength="32" lengthAdjust="spacingAndGlyphs" stroke="#000" stroke-width="0.15">1.38625</text>
<text x="1658.5" y="210.9" font-size="9.5" fill="#000" textLength="32" lengthAdjust="spacingAndGlyphs" stroke="#000" stroke-width="0.15">1.38400</text>
<text x="1658.5" y="243.9" font-size="9.5" fill="#000" textLength="32" lengthAdjust="spacingAndGlyphs" stroke="#000" stroke-width="0.15">1.38175</text>
<text x="1658.5" y="276.9" font-size="9.5" fill="#000" textLength="32" lengthAdjust="spacingAndGlyphs" stroke="#000" stroke-width="0.15">1.37950</text>
<text x="1658.5" y="309.9" font-size="9.5" fill="#000" textLength="32" lengthAdjust="spacingAndGlyphs" stroke="#000" stroke-width="0.15">1.37730</text>
<text x="1658.5" y="342.9" font-size="9.5" fill="#000" textLength="32" lengthAdjust="spacingAndGlyphs" stroke="#000" stroke-width="0.15">1.37505</text>
<text x="1658.5" y="375.9" font-size="9.5" fill="#000" textLength="32" lengthAdjust="spacingAndGlyphs" stroke="#000" stroke-width="0.15">1.37280</text>
<text x="1658.5" y="408.9" font-size="9.5" fill="#000" textLength="32" lengthAdjust="spacingAndGlyphs" stroke="#000" stroke-width="0.15">1.37055</text>
<text x="1658.5" y="441.9" font-size="9.5" fill="#000" textLength="32" lengthAdjust="spacingAndGlyphs" stroke="#000" stroke-width="0.15">1.36830</text>
<text x="1658.5" y="474.9" font-size="9.5" fill="#000" textLength="32" lengthAdjust="spacingAndGlyphs" stroke="#000" stroke-width="0.15">1.36610</text>
<text x="1658.5" y="507.9" font-size="9.5" fill="#000" textLength="32" lengthAdjust="spacingAndGlyphs" stroke="#000" stroke-width="0.15">1.36385</text>
<text x="1658.5" y="540.9" font-size="9.5" fill="#000" textLength="32" lengthAdjust="spacingAndGlyphs" stroke="#000" stroke-width="0.15">1.36160</text>
<text x="1658.5" y="573.9" font-size="9.5" fill="#000" textLength="32" lengthAdjust="spacingAndGlyphs" stroke="#000" stroke-width="0.15">1.35935</text>
<rect x="1654" y="207" width="41" height="11" fill="#ff0000" shape-rendering="crispEdges"/>
<text x="1658.5" y="215.7" font-size="9" fill="#fff" textLength="32" lengthAdjust="spacingAndGlyphs">1.38359</text>
<rect x="1654" y="234" width="41" height="11" fill="#ff4500" shape-rendering="crispEdges"/>
<text x="1658.5" y="242.7" font-size="9" fill="#fff" textLength="32" lengthAdjust="spacingAndGlyphs">1.38176</text>
<rect x="1654" y="257" width="41" height="11" fill="#32cd32" shape-rendering="crispEdges"/>
<text x="1658.5" y="265.7" font-size="9" fill="#fff" textLength="32" lengthAdjust="spacingAndGlyphs">1.38020</text>
<rect x="1654" y="293" width="41" height="11" fill="#0000ff" shape-rendering="crispEdges"/>
<text x="1658.5" y="301.7" font-size="9" fill="#fff" textLength="32" lengthAdjust="spacingAndGlyphs">1.37776</text>
<rect x="1654" y="314" width="41" height="11" fill="#0000ff" shape-rendering="crispEdges"/>
<text x="1658.5" y="322.7" font-size="9" fill="#fff" textLength="32" lengthAdjust="spacingAndGlyphs">1.37634</text>
<rect x="1654" y="273" width="41" height="11" fill="#000" shape-rendering="crispEdges"/>
<text x="1658.5" y="282" font-size="9" fill="#fff" textLength="32" lengthAdjust="spacingAndGlyphs">1.37920</text>
<text x="1656" y="585.8" font-size="9.8" fill="#000" textLength="38" lengthAdjust="spacingAndGlyphs">0.003243</text>
<text x="1656" y="642" font-size="9.8" fill="#000" textLength="18" lengthAdjust="spacingAndGlyphs">0.00</text>
<text x="1656" y="741.8" font-size="9.8" fill="#000" textLength="41" lengthAdjust="spacingAndGlyphs">-0.005616</text>
<text x="1656.5" y="757.8" font-size="9.8" fill="#000" textLength="14" lengthAdjust="spacingAndGlyphs">100</text>
<text x="1656.5" y="787" font-size="9.8" fill="#000" textLength="9.5" lengthAdjust="spacingAndGlyphs">80</text>
<text x="1656.5" y="838" font-size="9.8" fill="#000" textLength="9.5" lengthAdjust="spacingAndGlyphs">50</text>
<text x="1656.5" y="899" font-size="9.8" fill="#000" textLength="9.5" lengthAdjust="spacingAndGlyphs">15</text>
<text x="1656.5" y="917.9" font-size="9.8" fill="#000" textLength="5" lengthAdjust="spacingAndGlyphs">0</text>
<text x="-7" y="933.6" font-size="9.8" fill="#000" textLength="48.5" lengthAdjust="spacingAndGlyphs" stroke="#000" stroke-width="0.12">4 Aug 2021</text>
<text x="57" y="933.6" font-size="9.8" fill="#000" textLength="51" lengthAdjust="spacingAndGlyphs" stroke="#000" stroke-width="0.12">6 Aug 16:00</text>
<text x="121" y="933.6" font-size="9.8" fill="#000" textLength="56.5" lengthAdjust="spacingAndGlyphs" stroke="#000" stroke-width="0.12">10 Aug 00:00</text>
<text x="185" y="933.6" font-size="9.8" fill="#000" textLength="56.5" lengthAdjust="spacingAndGlyphs" stroke="#000" stroke-width="0.12">11 Aug 08:00</text>
<text x="249" y="933.6" font-size="9.8" fill="#000" textLength="56.5" lengthAdjust="spacingAndGlyphs" stroke="#000" stroke-width="0.12">12 Aug 16:00</text>
<text x="313" y="933.6" font-size="9.8" fill="#000" textLength="56.5" lengthAdjust="spacingAndGlyphs" stroke="#000" stroke-width="0.12">16 Aug 00:00</text>
<text x="377" y="933.6" font-size="9.8" fill="#000" textLength="56.5" lengthAdjust="spacingAndGlyphs" stroke="#000" stroke-width="0.12">17 Aug 08:00</text>
<text x="441" y="933.6" font-size="9.8" fill="#000" textLength="56.5" lengthAdjust="spacingAndGlyphs" stroke="#000" stroke-width="0.12">18 Aug 16:00</text>
<text x="505" y="933.6" font-size="9.8" fill="#000" textLength="56.5" lengthAdjust="spacingAndGlyphs" stroke="#000" stroke-width="0.12">20 Aug 00:00</text>
<text x="569" y="933.6" font-size="9.8" fill="#000" textLength="56.5" lengthAdjust="spacingAndGlyphs" stroke="#000" stroke-width="0.12">23 Aug 08:00</text>
<text x="633" y="933.6" font-size="9.8" fill="#000" textLength="56.5" lengthAdjust="spacingAndGlyphs" stroke="#000" stroke-width="0.12">24 Aug 16:00</text>
<text x="697" y="933.6" font-size="9.8" fill="#000" textLength="56.5" lengthAdjust="spacingAndGlyphs" stroke="#000" stroke-width="0.12">26 Aug 00:00</text>
<text x="761" y="933.6" font-size="9.8" fill="#000" textLength="56.5" lengthAdjust="spacingAndGlyphs" stroke="#000" stroke-width="0.12">27 Aug 08:00</text>
<text x="825" y="933.6" font-size="9.8" fill="#000" textLength="56.5" lengthAdjust="spacingAndGlyphs" stroke="#000" stroke-width="0.12">30 Aug 16:00</text>
<text x="889" y="933.6" font-size="9.8" fill="#000" textLength="51" lengthAdjust="spacingAndGlyphs" stroke="#000" stroke-width="0.12">1 Sep 00:00</text>
<text x="953" y="933.6" font-size="9.8" fill="#000" textLength="51" lengthAdjust="spacingAndGlyphs" stroke="#000" stroke-width="0.12">2 Sep 08:00</text>
<text x="1017" y="933.6" font-size="9.8" fill="#000" textLength="51" lengthAdjust="spacingAndGlyphs" stroke="#000" stroke-width="0.12">3 Sep 16:00</text>
<text x="1081" y="933.6" font-size="9.8" fill="#000" textLength="51" lengthAdjust="spacingAndGlyphs" stroke="#000" stroke-width="0.12">7 Sep 00:00</text>
<text x="1145" y="933.6" font-size="9.8" fill="#000" textLength="51" lengthAdjust="spacingAndGlyphs" stroke="#000" stroke-width="0.12">8 Sep 08:00</text>
<text x="1209" y="933.6" font-size="9.8" fill="#000" textLength="51" lengthAdjust="spacingAndGlyphs" stroke="#000" stroke-width="0.12">9 Sep 16:00</text>
<text x="1273" y="933.6" font-size="9.8" fill="#000" textLength="56.5" lengthAdjust="spacingAndGlyphs" stroke="#000" stroke-width="0.12">13 Sep 00:00</text>
<text x="1337" y="933.6" font-size="9.8" fill="#000" textLength="56.5" lengthAdjust="spacingAndGlyphs" stroke="#000" stroke-width="0.12">14 Sep 08:00</text>
<text x="1401" y="933.6" font-size="9.8" fill="#000" textLength="56.5" lengthAdjust="spacingAndGlyphs" stroke="#000" stroke-width="0.12">15 Sep 16:00</text>
<rect x="0" y="0" width="1699" height="16" fill="#f0f0f0"/>
<rect x="0" y="16" width="1698" height="1" fill="#a6a6a6"/>
<rect x="0" y="17" width="1698" height="1" fill="#787878"/>
<rect x="1698" y="16" width="1" height="920" fill="#e6e6e6"/>
<g id="toolbar"><clipPath id="ctb"><rect x="0" y="0" width="1699" height="16"/></clipPath><g clip-path="url(#ctb)">
<line x1="0" y1="6" x2="5" y2="12" stroke="#d8a820" stroke-width="3"/><circle cx="-3" cy="1" r="5" fill="#d4ecfa" stroke="#3f8fd0"/>
<rect x="13" y="0" width="1" height="14" fill="#a0a0a0"/>
<rect x="23.500" y="-2" width="11" height="11.5" fill="#fff" stroke="#909090"/><rect x="26" y="2" width="5" height="1" fill="#999"/><rect x="26" y="4" width="5" height="1" fill="#999"/>
<path d="M31.2 2.2h3.6v4.2h4.2v3.6h-4.2v4.2h-3.6v-4.2h-4.2v-3.6h4.2z" fill="#2cc82c" stroke="#168a16" stroke-width="0.8"/>
<text x="42" y="7.6" font-size="12" fill="#000" stroke="#000" stroke-width="0.4" textLength="36" lengthAdjust="spacingAndGlyphs" style="font-family:'Liberation Sans','Noto Sans CJK SC',sans-serif">新订单</text>
<polygon points="90,5.5 98,-3 106.500,3 106.500,6 99,12 90,6.5" fill="#d9a521" stroke="#a87808" stroke-width="0.8"/><polygon points="91,5.500 98,-2 105,3 98.500,9.5" fill="#f2cf5a"/>
<rect x="120.500" y="-2" width="10.500" height="8" fill="#2f8ee6"/><rect x="123" y="0" width="5" height="1" fill="#cfe6fb"/><path d="M121 11.500h10a3 3 0 0 0 .5-6a4 4 0 0 0-7-1.200a3.300 3.300 0 0 0-3.500 7.200z" fill="#eef4fb" stroke="#7a98c8" stroke-width="1"/>
<path d="M154 3.500L154 12A8.500 8.500 0 0 0 161.500 0" fill="#8fcf8f" stroke="#2e9a2e" stroke-width="0.8"/><path d="M149.500 -1a6 6 0 0 0 1.500 9M147 -1a9 9 0 0 0 3 11" fill="none" stroke="#5a8ad8" stroke-width="1"/><circle cx="154" cy="3.300" r="1.600" fill="#2a5fd0"/>
<path d="M173.500 2L189 2L188 6L181.500 11.500L179.500 11.500z" fill="#f5dc4a" stroke="#c9a818" stroke-width="0.8"/><ellipse cx="181" cy="0" rx="7.500" ry="2.800" fill="#4aa8e0"/><circle cx="185.500" cy="7.700" r="4.200" fill="#e02818"/><rect x="183.800" y="6" width="3.400" height="3.400" fill="#fff"/>
<text x="194.5" y="7.6" font-size="12" fill="#000" stroke="#000" stroke-width="0.4" textLength="47.4" lengthAdjust="spacingAndGlyphs" style="font-family:'Liberation Sans','Noto Sans CJK SC',sans-serif">自动交易</text>
<rect x="249" y="0" width="1" height="15" fill="#a0a0a0"/><rect x="250" y="0" width="1" height="15" fill="#fafafa"/>
<rect x="253" y="0" width="4" height="1" fill="#b4b4b4"/>
<rect x="253" y="2" width="4" height="1" fill="#b4b4b4"/>
<rect x="253" y="4" width="4" height="1" fill="#b4b4b4"/>
<rect x="253" y="6" width="4" height="1" fill="#b4b4b4"/>
<rect x="253" y="8" width="4" height="1" fill="#b4b4b4"/>
<rect x="253" y="10" width="4" height="1" fill="#b4b4b4"/>
<rect x="253" y="12" width="4" height="1" fill="#b4b4b4"/>
<path d="M267.5 0V12M265 9.5H278M276 7.5L278.5 9.5L276 11.5" stroke="#505050" stroke-width="1" fill="none"/>
<path d="M271.500 6.500h2.500v-6h2.500" stroke="#1e9a1e" stroke-width="1.500" fill="none"/>
<rect x="287" y="0" width="1" height="14" fill="#a0a0a0"/>
<rect x="288" y="0" width="25" height="15" fill="#f7f7f7"/>
<path d="M295.5 0V12M293 9.5H306M304 7.5L306.5 9.5L304 11.5" stroke="#505050" stroke-width="1" fill="none"/>
<rect x="299" y="-1" width="5" height="6.700" fill="#2cc82c" stroke="#168a16" stroke-width="0.6"/><rect x="301" y="5.500" width="1" height="2.500" fill="#168a16"/>
<path d="M323.5 0V12M321 9.5H334M332 7.5L334.5 9.5L332 11.5" stroke="#505050" stroke-width="1" fill="none"/>
<path d="M322.500 6.800Q328 -2 334 5" stroke="#1e9a1e" stroke-width="1.300" fill="none"/>
<rect x="344" y="0" width="1" height="14" fill="#a0a0a0"/>
<line x1="363" y1="6" x2="368" y2="11" stroke="#d8a820" stroke-width="3" stroke-linecap="round"/>
<circle cx="359" cy="1.5" r="5.7" fill="#d4ecfa" stroke="#3f8fd0" stroke-width="1.2"/>
<rect x="356" y="1" width="6" height="1.4" fill="#2f78c0"/>
<rect x="358.3" y="-2" width="1.4" height="6.5" fill="#2f78c0"/>
<line x1="391" y1="6" x2="396" y2="11" stroke="#d8a820" stroke-width="3" stroke-linecap="round"/>
<circle cx="387" cy="1.5" r="5.7" fill="#d4ecfa" stroke="#3f8fd0" stroke-width="1.2"/>
<rect x="384" y="1" width="6" height="1.4" fill="#2f78c0"/>
<rect x="409" y="-2" width="8" height="6" fill="#3a9a1a"/><rect x="417" y="-2" width="8" height="6" fill="#2a5fd8"/><rect x="409" y="4" width="8" height="8" fill="#2a5fd8"/><rect x="417" y="4" width="8" height="8" fill="#3a9a1a"/>
<rect x="411" y="1" width="4" height="1.500" fill="#d8f0c8"/><rect x="419" y="1" width="4" height="1.500" fill="#d0dcf8"/><rect x="411" y="7" width="4" height="2.500" fill="#d0dcf8"/><rect x="419" y="7" width="4" height="2.500" fill="#d8f0c8"/>
<rect x="434" y="0" width="1" height="14" fill="#a0a0a0"/><rect x="439" y="0" width="1" height="14" fill="#a0a0a0"/>
<rect x="440" y="0" width="25" height="15" fill="#f7f7f7"/>
<path d="M447.5 0V12M445 9.5H458M456 7.5L458.5 9.5L456 11.5" stroke="#505050" stroke-width="1" fill="none"/>
<polygon points="452.500,0 456.500,3.300 452.500,6.600" fill="#2cc82c" stroke="#168a16" stroke-width="0.600"/>
<rect x="467" y="0" width="1" height="14" fill="#a0a0a0"/>
<rect x="468" y="0" width="25" height="15" fill="#f7f7f7"/>
<path d="M475.5 0V12M473 9.5H486M484 7.5L486.5 9.5L484 11.5" stroke="#505050" stroke-width="1" fill="none"/>
<rect x="481" y="0" width="1" height="8" fill="#2a70c0"/><path d="M483 3.500h4.500M485 1.500l-2 2l2 2" stroke="#e05010" stroke-width="1.200" fill="none"/>
<rect x="496" y="0" width="1" height="14" fill="#a0a0a0"/>
<rect x="506.500" y="-2" width="10.500" height="11" fill="#fff" stroke="#909090"/>
<path d="M514.2 2.2h3.6v4.2h4.2v3.6h-4.2v4.2h-3.6v-4.2h-4.2v-3.6h4.2z" fill="#2cc82c" stroke="#168a16" stroke-width="0.8"/>
<polygon points="528,3 534,3 531,6.5" fill="#000"/>
<circle cx="551.600" cy="3.500" r="6.800" fill="#f4f8fc" stroke="#1a6ac8" stroke-width="2"/><path d="M551.600 0v4h3" stroke="#404040" stroke-width="1" fill="none"/>
<polygon points="567,3 573,3 570,6.5" fill="#000"/>
<rect x="583.500" y="-2" width="15" height="12.500" fill="#fff" stroke="#3a78d0"/><rect x="584" y="5" width="14" height="1" fill="#3a78d0"/><path d="M586 3l3-1.500l3 0l3-1.500" stroke="#b83010" fill="none"/><path d="M586 8.500l3-1l2 1l3-2l2 1.500" stroke="#1e9a1e" fill="none"/>
<polygon points="606,3 612,3 609,6.5" fill="#000"/>
<rect x="617" y="0" width="1" height="15" fill="#a0a0a0"/><rect x="618" y="0" width="1" height="15" fill="#fafafa"/>
<rect x="620" y="0" width="4" height="1" fill="#b4b4b4"/>
<rect x="620" y="2" width="4" height="1" fill="#b4b4b4"/>
<rect x="620" y="4" width="4" height="1" fill="#b4b4b4"/>
<rect x="620" y="6" width="4" height="1" fill="#b4b4b4"/>
<rect x="620" y="8" width="4" height="1" fill="#b4b4b4"/>
<rect x="620" y="10" width="4" height="1" fill="#b4b4b4"/>
<rect x="620" y="12" width="4" height="1" fill="#b4b4b4"/>
<rect x="627" y="0" width="1" height="14" fill="#a0a0a0"/>
<rect x="628" y="0" width="25" height="15" fill="#f7f7f7"/>
<polygon points="635,-2 635,8 637.500,6 640,11 642,10.300 639.600,5.200 643,4.800" fill="#505050"/>
<rect x="660" y="4" width="15" height="1" fill="#606060"/><rect x="667" y="0" width="1" height="12" fill="#606060"/>
<rect x="684" y="0" width="1" height="14" fill="#a0a0a0"/>
<rect x="701" y="0" width="1" height="11" fill="#505050"/><rect x="724" y="4" width="12" height="1" fill="#505050"/><line x1="752" y1="11" x2="763" y2="0.500" stroke="#505050" stroke-width="1.200"/>
<path d="M778 5l10-7M780 10l11-8M779 7.500l4-8M783 9l4-9M787 6l3-6" stroke="#505050" stroke-width="1" fill="none"/>
<text x="788.600" y="12.800" font-size="6.500" font-weight="bold" fill="#303030">E</text>
<path d="M807 0.500h12M807 4.500h12M807 8.500h9" stroke="#505050" stroke-width="1" stroke-dasharray="1,1" fill="none"/>
<text x="816.800" y="12.800" font-size="6.500" font-weight="bold" fill="#303030">F</text>
<text x="837.300" y="9" font-size="13.500" fill="#505050" textLength="9" lengthAdjust="spacingAndGlyphs">A</text>
<rect x="864.500" y="-1" width="11" height="11.500" fill="none" stroke="#505050" stroke-dasharray="1,1"/><text x="866.300" y="9" font-size="11" fill="#505050" textLength="7.500" lengthAdjust="spacingAndGlyphs">T</text>
<path d="M893 5l2 2l5-5" stroke="#505050" stroke-width="1.500" fill="none"/><polygon points="891,0 894,-2 897,0 894,2.500" fill="#505050"/><polygon points="898,7.500 901.500,5 905,7.500 901.500,10.500" fill="#505050"/>
<polygon points="912,3 918,3 915,6.5" fill="#000"/>
<rect x="922" y="0" width="1" height="15" fill="#a0a0a0"/><rect x="923" y="0" width="1" height="15" fill="#fafafa"/>
<rect x="926" y="0" width="4" height="1" fill="#b4b4b4"/>
<rect x="926" y="2" width="4" height="1" fill="#b4b4b4"/>
<rect x="926" y="4" width="4" height="1" fill="#b4b4b4"/>
<rect x="926" y="6" width="4" height="1" fill="#b4b4b4"/>
<rect x="926" y="8" width="4" height="1" fill="#b4b4b4"/>
<rect x="926" y="10" width="4" height="1" fill="#b4b4b4"/>
<rect x="926" y="12" width="4" height="1" fill="#b4b4b4"/>
<rect x="1073" y="0" width="1" height="14" fill="#a0a0a0"/>
<rect x="1074" y="0" width="24" height="15" fill="#f7f7f7"/>
<text x="938.5" y="7.900" font-size="10" fill="#404040" textLength="12.5" lengthAdjust="spacingAndGlyphs">M1</text>
<text x="966.5" y="7.900" font-size="10" fill="#404040" textLength="12.5" lengthAdjust="spacingAndGlyphs">M5</text>
<text x="993" y="7.900" font-size="10" fill="#404040" textLength="17.5" lengthAdjust="spacingAndGlyphs">M15</text>
<text x="1020.5" y="7.900" font-size="10" fill="#404040" textLength="17.5" lengthAdjust="spacingAndGlyphs">M30</text>
<text x="1051.5" y="7.900" font-size="10" fill="#404040" textLength="12" lengthAdjust="spacingAndGlyphs">H1</text>
<text x="1078" y="7.900" font-size="10" fill="#404040" textLength="13" lengthAdjust="spacingAndGlyphs">H4</text>
<text x="1107.5" y="7.900" font-size="10" fill="#404040" textLength="12" lengthAdjust="spacingAndGlyphs">D1</text>
<text x="1135" y="7.900" font-size="10" fill="#404040" textLength="14" lengthAdjust="spacingAndGlyphs">W1</text>
<text x="1161.5" y="7.900" font-size="10" fill="#404040" textLength="14.5" lengthAdjust="spacingAndGlyphs">MN</text>
<rect x="1184" y="0" width="1" height="14" fill="#a0a0a0"/>
<line x1="1651" y1="5.500" x2="1646.800" y2="9.300" stroke="#2a60d0" stroke-width="2.600" stroke-linecap="round"/><circle cx="1654.400" cy="-0.500" r="5" fill="#f0f0f0" stroke="#2a60d0" stroke-width="1.400"/>
<ellipse cx="1677" cy="6.500" rx="5.800" ry="4.600" fill="#e8e8ec" stroke="#c0c0c4" stroke-width="0.800"/><polygon points="1674,10 1675,13 1678,10.500" fill="#d8d8dc"/>
<circle cx="1685.300" cy="0.800" r="8.300" fill="#e03a1e"/><text x="1682.300" y="5.400" font-size="12" font-family="Liberation Serif" fill="#fff" style="font-family:'Liberation Serif',serif">1</text>
</g></g>
</svg></body></html>
